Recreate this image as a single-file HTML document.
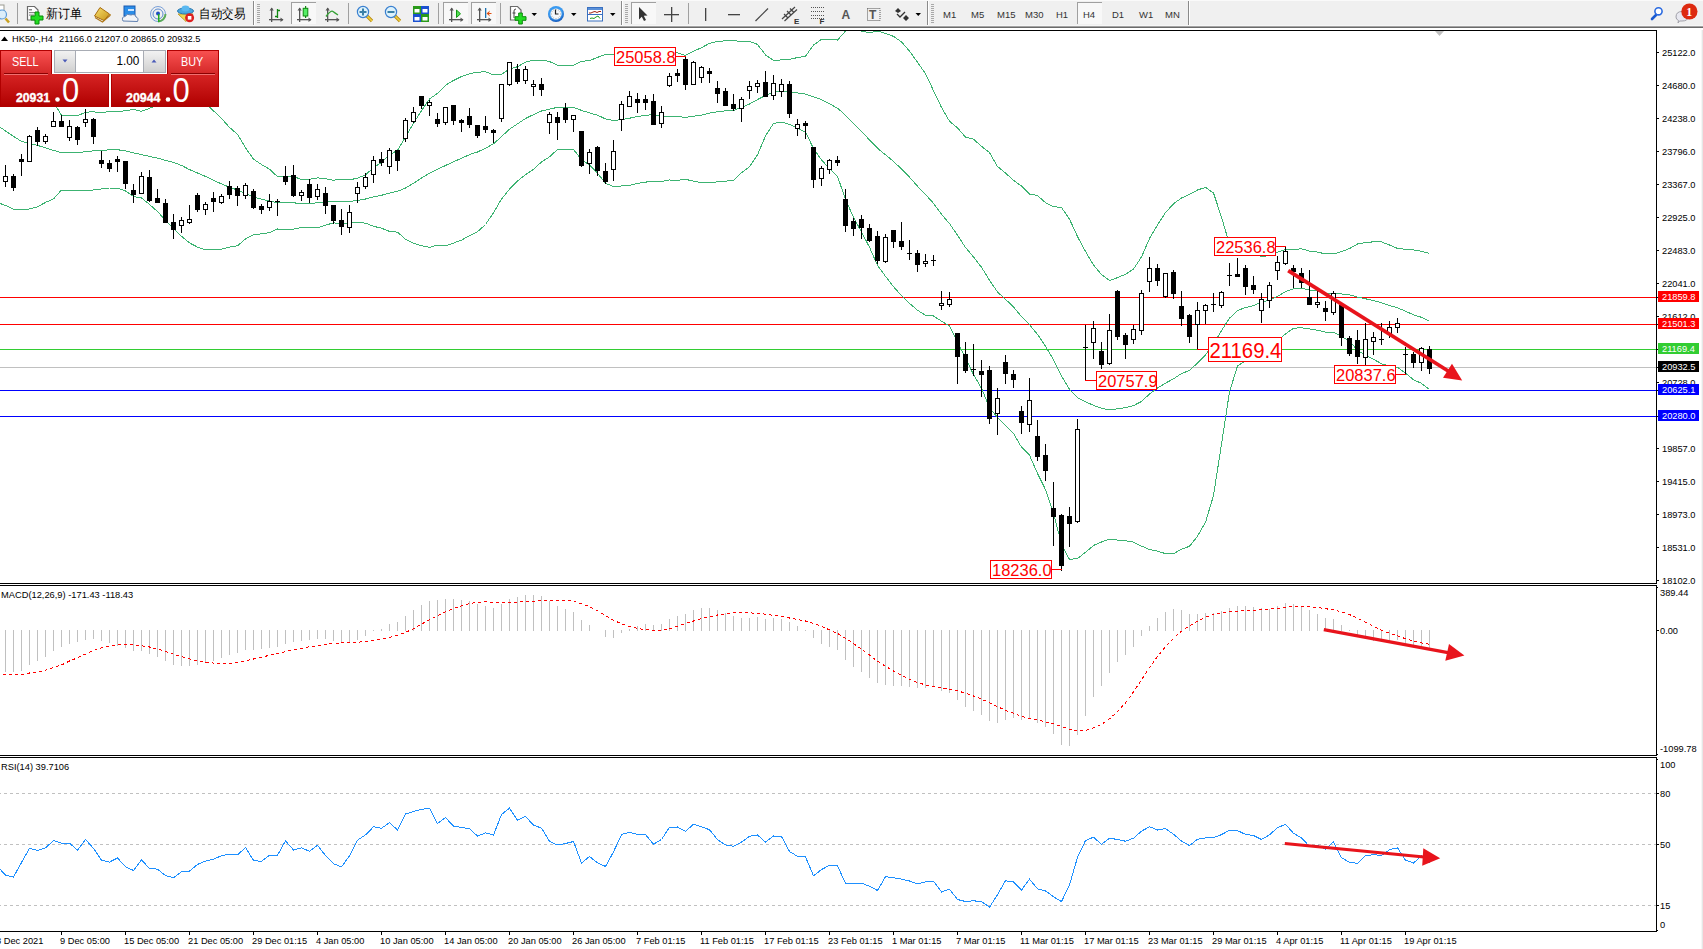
<!DOCTYPE html>
<html><head><meta charset="utf-8"><style>
html,body{margin:0;padding:0;background:#fff;}
body{width:1703px;height:949px;position:relative;overflow:hidden;font-family:"Liberation Sans",sans-serif;}
.abs{position:absolute;}
</style></head><body>
<svg class="abs" style="left:0;top:0" width="1703" height="949" viewBox="0 0 1703 949">
<rect x="1702" y="28" width="1" height="921" fill="#e6e6e6"/>
<rect x="1701" y="28" width="1" height="921" fill="#f6f6f6"/>
<polygon points="1435,31 1444,31 1439.5,36" fill="#c0c0c0"/>
<rect x="0" y="297" width="1656" height="1" fill="#ff0000"/>
<rect x="0" y="324" width="1656" height="1" fill="#ff0000"/>
<rect x="0" y="349" width="1656" height="1" fill="#32cd32"/>
<rect x="0" y="367" width="1656" height="1" fill="#c0c0c0"/>
<rect x="0" y="390" width="1656" height="1" fill="#0000ff"/>
<rect x="0" y="416" width="1656" height="1" fill="#0000ff"/>
<line x1="0" y1="793.5" x2="1656" y2="793.5" stroke="#c0c0c0" stroke-width="1" stroke-dasharray="3 3" stroke-dashoffset="2"/>
<line x1="0" y1="844.5" x2="1656" y2="844.5" stroke="#c0c0c0" stroke-width="1" stroke-dasharray="3 3" stroke-dashoffset="2"/>
<line x1="0" y1="905.5" x2="1656" y2="905.5" stroke="#c0c0c0" stroke-width="1" stroke-dasharray="3 3" stroke-dashoffset="2"/>
<g shape-rendering="crispEdges">
<polyline points="-3.0,47.5 5.5,56.4 13.5,63.4 21.5,72.9 29.5,77.9 37.5,83.9 45.5,93.4 53.5,101.9 61.5,115.2 69.5,115.8 77.5,115.8 85.5,112.2 93.5,111.8 101.5,112.8 109.5,111.4 117.5,111.4 125.5,110.8 133.5,109.3 141.5,111.3 149.5,108.4 157.5,104.6 165.5,100.4 173.5,96.2 181.5,94.5 189.5,96.2 197.5,98.8 205.5,103.0 213.5,110.8 221.5,118.5 229.5,127.4 237.5,134.3 245.5,147.8 253.5,159.2 261.5,164.5 269.5,169.1 277.5,176.7 285.5,176.3 293.5,176.4 301.5,179.6 309.5,179.3 317.5,177.9 325.5,178.7 333.5,180.2 341.5,179.3 349.5,179.8 357.5,178.2 365.5,174.9 373.5,167.6 381.5,162.3 389.5,154.7 397.5,150.5 405.5,136.9 413.5,123.3 421.5,110.6 429.5,99.0 437.5,93.3 445.5,85.3 453.5,80.5 461.5,76.5 469.5,73.7 477.5,72.2 485.5,71.8 493.5,74.8 501.5,74.3 509.5,69.1 517.5,66.7 525.5,62.2 533.5,60.0 541.5,60.0 549.5,61.5 557.5,65.2 565.5,65.2 573.5,65.3 581.5,61.3 589.5,60.7 597.5,57.4 605.5,54.5 613.5,54.5 621.5,53.2 629.5,51.1 637.5,49.6 645.5,48.3 653.5,48.2 661.5,51.0 669.5,53.8 677.5,52.8 685.5,55.4 693.5,51.3 701.5,47.7 709.5,43.3 717.5,41.5 725.5,40.8 733.5,40.5 741.5,41.8 749.5,41.3 757.5,44.4 765.5,54.9 773.5,60.5 781.5,59.9 789.5,59.3 797.5,57.6 805.5,56.2 813.5,45.1 821.5,39.4 829.5,39.1 837.5,40.1 845.5,31.1 853.5,29.7 861.5,31.1 869.5,32.6 877.5,31.2 885.5,33.3 893.5,36.4 901.5,41.9 909.5,51.0 917.5,62.3 925.5,73.6 933.5,90.7 941.5,107.5 949.5,121.2 957.5,127.9 965.5,137.2 973.5,139.2 981.5,146.3 989.5,152.6 997.5,166.5 1005.5,173.0 1013.5,180.3 1021.5,186.1 1029.5,194.1 1037.5,195.5 1045.5,202.6 1053.5,206.7 1061.5,207.5 1069.5,219.1 1077.5,236.6 1085.5,251.4 1093.5,265.0 1101.5,274.6 1109.5,280.6 1117.5,277.6 1125.5,274.3 1133.5,269.0 1141.5,256.9 1149.5,238.5 1157.5,225.0 1165.5,212.6 1173.5,203.8 1181.5,198.0 1189.5,194.5 1197.5,190.0 1205.5,187.4 1213.5,193.0 1221.5,217.1 1229.5,244.5 1237.5,255.2 1245.5,253.9 1253.5,252.3 1261.5,256.5 1269.5,255.6 1277.5,252.3 1285.5,249.4 1293.5,249.4 1301.5,248.8 1309.5,251.1 1317.5,252.1 1325.5,253.9 1333.5,253.9 1341.5,251.6 1349.5,248.6 1357.5,244.0 1365.5,242.6 1373.5,241.8 1381.5,241.9 1389.5,245.0 1397.5,248.4 1405.5,249.3 1413.5,250.0 1421.5,251.2 1429.5,253.5" fill="none" stroke="#3cb371" stroke-width="1" />
<polyline points="-3.0,125.0 5.5,130.9 13.5,136.4 21.5,141.4 29.5,143.4 37.5,145.4 45.5,147.9 53.5,150.4 61.5,152.6 69.5,152.9 77.5,152.9 85.5,151.6 93.5,150.9 101.5,150.9 109.5,149.7 117.5,149.7 125.5,150.9 133.5,152.9 141.5,154.6 149.5,156.4 157.5,158.1 165.5,160.4 173.5,162.5 181.5,165.4 189.5,169.6 197.5,173.0 205.5,176.4 213.5,180.3 221.5,183.9 229.5,187.3 237.5,190.0 245.5,193.4 253.5,196.9 261.5,199.2 269.5,200.9 277.5,202.9 285.5,202.8 293.5,202.8 301.5,203.6 309.5,203.5 317.5,202.8 325.5,202.0 333.5,201.5 341.5,201.8 349.5,201.4 357.5,200.4 365.5,199.0 373.5,196.9 381.5,195.3 389.5,193.1 397.5,191.3 405.5,188.1 413.5,183.3 421.5,178.1 429.5,173.2 437.5,169.2 445.5,165.5 453.5,161.8 461.5,158.3 469.5,154.6 477.5,152.0 485.5,148.2 493.5,143.8 501.5,136.6 509.5,129.2 517.5,123.8 525.5,118.5 533.5,114.6 541.5,111.0 549.5,109.2 557.5,107.3 565.5,107.2 573.5,107.4 581.5,110.4 589.5,112.9 597.5,115.2 605.5,118.9 613.5,120.5 621.5,119.6 629.5,118.2 637.5,116.6 645.5,115.2 653.5,114.8 661.5,116.2 669.5,116.9 677.5,116.6 685.5,117.4 693.5,116.3 701.5,115.1 709.5,113.1 717.5,111.7 725.5,110.9 733.5,110.6 741.5,107.3 749.5,104.0 757.5,99.6 765.5,95.4 773.5,92.0 781.5,91.0 789.5,91.8 797.5,92.9 805.5,94.1 813.5,96.8 821.5,99.6 829.5,103.8 837.5,108.2 845.5,115.2 853.5,123.6 861.5,131.5 869.5,139.9 877.5,148.2 885.5,154.8 893.5,161.5 901.5,168.9 909.5,177.2 917.5,186.2 925.5,194.5 933.5,203.3 941.5,214.3 949.5,223.6 957.5,235.2 965.5,247.5 973.5,257.0 981.5,267.3 989.5,280.2 997.5,292.0 1005.5,299.3 1013.5,306.9 1021.5,316.6 1029.5,324.7 1037.5,334.4 1045.5,346.1 1053.5,359.8 1061.5,375.8 1069.5,389.3 1077.5,397.6 1085.5,401.9 1093.5,405.3 1101.5,408.3 1109.5,409.8 1117.5,408.8 1125.5,407.6 1133.5,405.6 1141.5,401.5 1149.5,394.0 1157.5,388.1 1165.5,383.1 1173.5,378.8 1181.5,373.6 1189.5,370.4 1197.5,363.1 1205.5,354.8 1213.5,344.2 1221.5,330.6 1229.5,318.2 1237.5,310.6 1245.5,307.5 1253.5,305.6 1261.5,302.3 1269.5,300.1 1277.5,296.4 1285.5,291.7 1293.5,288.8 1301.5,288.2 1309.5,290.1 1317.5,291.1 1325.5,293.0 1333.5,293.0 1341.5,294.0 1349.5,294.8 1357.5,297.1 1365.5,298.8 1373.5,300.5 1381.5,302.8 1389.5,305.5 1397.5,307.8 1405.5,311.2 1413.5,314.8 1421.5,317.3 1429.5,321.4" fill="none" stroke="#3cb371" stroke-width="1" />
<polyline points="-3.0,202.5 5.5,205.4 13.5,209.4 21.5,209.9 29.5,208.9 37.5,206.9 45.5,202.4 53.5,198.9 61.5,190.0 69.5,190.0 77.5,190.0 85.5,191.0 93.5,190.0 101.5,189.0 109.5,188.0 117.5,188.0 125.5,191.0 133.5,196.5 141.5,197.9 149.5,204.4 157.5,211.5 165.5,220.3 173.5,228.7 181.5,236.3 189.5,242.9 197.5,247.1 205.5,249.7 213.5,249.9 221.5,249.2 229.5,247.1 237.5,245.8 245.5,238.9 253.5,234.6 261.5,233.9 269.5,232.6 277.5,229.0 285.5,229.2 293.5,229.2 301.5,227.6 309.5,227.6 317.5,227.7 325.5,225.2 333.5,222.8 341.5,224.3 349.5,223.1 357.5,222.5 365.5,223.1 373.5,226.3 381.5,228.2 389.5,231.4 397.5,232.1 405.5,239.2 413.5,243.3 421.5,245.6 429.5,247.3 437.5,245.2 445.5,245.8 453.5,243.1 461.5,240.1 469.5,235.6 477.5,231.7 485.5,224.5 493.5,212.7 501.5,199.0 509.5,189.2 517.5,181.0 525.5,174.7 533.5,169.3 541.5,162.0 549.5,156.9 557.5,149.4 565.5,149.3 573.5,149.5 581.5,159.5 589.5,165.1 597.5,173.1 605.5,183.4 613.5,186.5 621.5,186.0 629.5,185.3 637.5,183.5 645.5,182.1 653.5,181.4 661.5,181.4 669.5,180.0 677.5,180.4 685.5,179.3 693.5,181.2 701.5,182.6 709.5,182.9 717.5,181.8 725.5,181.1 733.5,180.7 741.5,172.8 749.5,166.7 757.5,154.9 765.5,135.9 773.5,123.5 781.5,122.1 789.5,124.4 797.5,128.3 805.5,132.0 813.5,148.6 821.5,159.9 829.5,168.6 837.5,176.3 845.5,199.4 853.5,217.4 861.5,232.0 869.5,247.2 877.5,265.3 885.5,276.4 893.5,286.6 901.5,295.8 909.5,303.4 917.5,310.2 925.5,315.4 933.5,316.0 941.5,321.1 949.5,326.0 957.5,342.5 965.5,357.7 973.5,374.7 981.5,388.2 989.5,407.7 997.5,417.4 1005.5,425.7 1013.5,433.5 1021.5,447.2 1029.5,455.2 1037.5,473.4 1045.5,489.6 1053.5,513.0 1061.5,544.1 1069.5,559.5 1077.5,558.5 1085.5,552.3 1093.5,545.5 1101.5,542.0 1109.5,539.1 1117.5,540.1 1125.5,540.8 1133.5,542.1 1141.5,546.1 1149.5,549.5 1157.5,551.2 1165.5,553.6 1173.5,553.8 1181.5,549.2 1189.5,546.3 1197.5,536.2 1205.5,522.3 1213.5,495.5 1221.5,444.1 1229.5,391.9 1237.5,365.9 1245.5,361.1 1253.5,358.8 1261.5,348.1 1269.5,344.5 1277.5,340.4 1285.5,334.0 1293.5,328.2 1301.5,327.7 1309.5,329.0 1317.5,330.2 1325.5,332.2 1333.5,332.2 1341.5,336.4 1349.5,341.1 1357.5,350.3 1365.5,355.1 1373.5,359.2 1381.5,363.8 1389.5,365.9 1397.5,367.2 1405.5,373.1 1413.5,379.7 1421.5,383.4 1429.5,389.4" fill="none" stroke="#3cb371" stroke-width="1" />
</g>
<g shape-rendering="crispEdges">
<rect x="5" y="165" width="1" height="22" fill="#000"/>
<rect x="3" y="176" width="5" height="6" fill="#000"/>
<rect x="4" y="177" width="3" height="4" fill="#fff"/>
<rect x="13" y="174" width="1" height="17" fill="#000"/>
<rect x="11" y="176" width="5" height="12" fill="#000"/>
<rect x="21" y="154" width="1" height="22" fill="#000"/>
<rect x="19" y="159" width="5" height="3" fill="#000"/>
<rect x="29" y="135" width="1" height="27" fill="#000"/>
<rect x="27" y="136" width="5" height="26" fill="#000"/>
<rect x="28" y="137" width="3" height="24" fill="#fff"/>
<rect x="37" y="127" width="1" height="19" fill="#000"/>
<rect x="35" y="130" width="5" height="12" fill="#000"/>
<rect x="45" y="134" width="1" height="10" fill="#000"/>
<rect x="43" y="136" width="5" height="6" fill="#000"/>
<rect x="44" y="137" width="3" height="4" fill="#fff"/>
<rect x="53" y="112" width="1" height="15" fill="#000"/>
<rect x="51" y="121" width="5" height="6" fill="#000"/>
<rect x="52" y="122" width="3" height="4" fill="#fff"/>
<rect x="61" y="115" width="1" height="12" fill="#000"/>
<rect x="59" y="121" width="5" height="6" fill="#000"/>
<rect x="69" y="120" width="1" height="21" fill="#000"/>
<rect x="67" y="126" width="5" height="12" fill="#000"/>
<rect x="68" y="127" width="3" height="10" fill="#fff"/>
<rect x="77" y="126" width="1" height="19" fill="#000"/>
<rect x="75" y="127" width="5" height="13" fill="#000"/>
<rect x="85" y="109" width="1" height="18" fill="#000"/>
<rect x="83" y="119" width="5" height="4" fill="#000"/>
<rect x="84" y="120" width="3" height="2" fill="#fff"/>
<rect x="93" y="118" width="1" height="26" fill="#000"/>
<rect x="91" y="119" width="5" height="18" fill="#000"/>
<rect x="101" y="151" width="1" height="17" fill="#000"/>
<rect x="99" y="160" width="5" height="4" fill="#000"/>
<rect x="109" y="160" width="1" height="12" fill="#000"/>
<rect x="107" y="163" width="5" height="6" fill="#000"/>
<rect x="117" y="156" width="1" height="16" fill="#000"/>
<rect x="115" y="159" width="5" height="3" fill="#000"/>
<rect x="125" y="161" width="1" height="28" fill="#000"/>
<rect x="123" y="161" width="5" height="23" fill="#000"/>
<rect x="133" y="184" width="1" height="19" fill="#000"/>
<rect x="131" y="190" width="5" height="5" fill="#000"/>
<rect x="141" y="172" width="1" height="22" fill="#000"/>
<rect x="139" y="176" width="5" height="18" fill="#000"/>
<rect x="140" y="177" width="3" height="16" fill="#fff"/>
<rect x="149" y="170" width="1" height="32" fill="#000"/>
<rect x="147" y="177" width="5" height="24" fill="#000"/>
<rect x="157" y="189" width="1" height="14" fill="#000"/>
<rect x="155" y="198" width="5" height="5" fill="#000"/>
<rect x="165" y="199" width="1" height="24" fill="#000"/>
<rect x="163" y="203" width="5" height="20" fill="#000"/>
<rect x="173" y="214" width="1" height="25" fill="#000"/>
<rect x="171" y="222" width="5" height="8" fill="#000"/>
<rect x="181" y="217" width="1" height="16" fill="#000"/>
<rect x="179" y="220" width="5" height="6" fill="#000"/>
<rect x="180" y="221" width="3" height="4" fill="#fff"/>
<rect x="189" y="205" width="1" height="19" fill="#000"/>
<rect x="187" y="219" width="5" height="4" fill="#000"/>
<rect x="188" y="220" width="3" height="2" fill="#fff"/>
<rect x="197" y="193" width="1" height="19" fill="#000"/>
<rect x="195" y="195" width="5" height="15" fill="#000"/>
<rect x="205" y="202" width="1" height="13" fill="#000"/>
<rect x="203" y="204" width="5" height="6" fill="#000"/>
<rect x="204" y="205" width="3" height="4" fill="#fff"/>
<rect x="213" y="192" width="1" height="20" fill="#000"/>
<rect x="211" y="198" width="5" height="4" fill="#000"/>
<rect x="221" y="194" width="1" height="10" fill="#000"/>
<rect x="219" y="196" width="5" height="7" fill="#000"/>
<rect x="220" y="197" width="3" height="5" fill="#fff"/>
<rect x="229" y="181" width="1" height="18" fill="#000"/>
<rect x="227" y="186" width="5" height="9" fill="#000"/>
<rect x="237" y="186" width="1" height="20" fill="#000"/>
<rect x="235" y="188" width="5" height="8" fill="#000"/>
<rect x="245" y="183" width="1" height="16" fill="#000"/>
<rect x="243" y="185" width="5" height="11" fill="#000"/>
<rect x="244" y="186" width="3" height="9" fill="#fff"/>
<rect x="253" y="189" width="1" height="20" fill="#000"/>
<rect x="251" y="191" width="5" height="17" fill="#000"/>
<rect x="261" y="204" width="1" height="10" fill="#000"/>
<rect x="259" y="206" width="5" height="4" fill="#000"/>
<rect x="269" y="194" width="1" height="17" fill="#000"/>
<rect x="267" y="201" width="5" height="7" fill="#000"/>
<rect x="268" y="202" width="3" height="5" fill="#fff"/>
<rect x="277" y="199" width="1" height="17" fill="#000"/>
<rect x="275" y="201" width="5" height="1" fill="#000"/>
<rect x="285" y="166" width="1" height="19" fill="#000"/>
<rect x="283" y="176" width="5" height="6" fill="#000"/>
<rect x="293" y="165" width="1" height="32" fill="#000"/>
<rect x="291" y="175" width="5" height="21" fill="#000"/>
<rect x="301" y="190" width="1" height="11" fill="#000"/>
<rect x="299" y="192" width="5" height="4" fill="#000"/>
<rect x="300" y="193" width="3" height="2" fill="#fff"/>
<rect x="309" y="179" width="1" height="24" fill="#000"/>
<rect x="307" y="184" width="5" height="14" fill="#000"/>
<rect x="317" y="184" width="1" height="16" fill="#000"/>
<rect x="315" y="189" width="5" height="8" fill="#000"/>
<rect x="316" y="190" width="3" height="6" fill="#fff"/>
<rect x="325" y="187" width="1" height="27" fill="#000"/>
<rect x="323" y="193" width="5" height="13" fill="#000"/>
<rect x="333" y="205" width="1" height="19" fill="#000"/>
<rect x="331" y="205" width="5" height="16" fill="#000"/>
<rect x="341" y="209" width="1" height="26" fill="#000"/>
<rect x="339" y="220" width="5" height="7" fill="#000"/>
<rect x="349" y="205" width="1" height="28" fill="#000"/>
<rect x="347" y="212" width="5" height="16" fill="#000"/>
<rect x="348" y="213" width="3" height="14" fill="#fff"/>
<rect x="357" y="182" width="1" height="21" fill="#000"/>
<rect x="355" y="187" width="5" height="7" fill="#000"/>
<rect x="356" y="188" width="3" height="5" fill="#fff"/>
<rect x="365" y="173" width="1" height="16" fill="#000"/>
<rect x="363" y="177" width="5" height="10" fill="#000"/>
<rect x="364" y="178" width="3" height="8" fill="#fff"/>
<rect x="373" y="156" width="1" height="27" fill="#000"/>
<rect x="371" y="160" width="5" height="15" fill="#000"/>
<rect x="372" y="161" width="3" height="13" fill="#fff"/>
<rect x="381" y="152" width="1" height="14" fill="#000"/>
<rect x="379" y="159" width="5" height="4" fill="#000"/>
<rect x="389" y="148" width="1" height="26" fill="#000"/>
<rect x="387" y="150" width="5" height="17" fill="#000"/>
<rect x="388" y="151" width="3" height="15" fill="#fff"/>
<rect x="397" y="150" width="1" height="21" fill="#000"/>
<rect x="395" y="150" width="5" height="11" fill="#000"/>
<rect x="405" y="118" width="1" height="24" fill="#000"/>
<rect x="403" y="120" width="5" height="19" fill="#000"/>
<rect x="404" y="121" width="3" height="17" fill="#fff"/>
<rect x="413" y="107" width="1" height="16" fill="#000"/>
<rect x="411" y="112" width="5" height="10" fill="#000"/>
<rect x="412" y="113" width="3" height="8" fill="#fff"/>
<rect x="421" y="96" width="1" height="13" fill="#000"/>
<rect x="419" y="96" width="5" height="10" fill="#000"/>
<rect x="429" y="100" width="1" height="16" fill="#000"/>
<rect x="427" y="102" width="5" height="4" fill="#000"/>
<rect x="428" y="103" width="3" height="2" fill="#fff"/>
<rect x="437" y="113" width="1" height="14" fill="#000"/>
<rect x="435" y="119" width="5" height="5" fill="#000"/>
<rect x="445" y="107" width="1" height="18" fill="#000"/>
<rect x="443" y="107" width="5" height="16" fill="#000"/>
<rect x="444" y="108" width="3" height="14" fill="#fff"/>
<rect x="453" y="105" width="1" height="20" fill="#000"/>
<rect x="451" y="105" width="5" height="16" fill="#000"/>
<rect x="461" y="119" width="1" height="13" fill="#000"/>
<rect x="459" y="120" width="5" height="3" fill="#000"/>
<rect x="469" y="108" width="1" height="20" fill="#000"/>
<rect x="467" y="116" width="5" height="9" fill="#000"/>
<rect x="477" y="125" width="1" height="13" fill="#000"/>
<rect x="475" y="125" width="5" height="11" fill="#000"/>
<rect x="485" y="116" width="1" height="17" fill="#000"/>
<rect x="483" y="126" width="5" height="4" fill="#000"/>
<rect x="493" y="129" width="1" height="14" fill="#000"/>
<rect x="491" y="130" width="5" height="3" fill="#000"/>
<rect x="501" y="84" width="1" height="38" fill="#000"/>
<rect x="499" y="84" width="5" height="35" fill="#000"/>
<rect x="500" y="85" width="3" height="33" fill="#fff"/>
<rect x="509" y="62" width="1" height="24" fill="#000"/>
<rect x="507" y="62" width="5" height="23" fill="#000"/>
<rect x="508" y="63" width="3" height="21" fill="#fff"/>
<rect x="517" y="64" width="1" height="20" fill="#000"/>
<rect x="515" y="69" width="5" height="13" fill="#000"/>
<rect x="525" y="66" width="1" height="18" fill="#000"/>
<rect x="523" y="69" width="5" height="12" fill="#000"/>
<rect x="524" y="70" width="3" height="10" fill="#fff"/>
<rect x="533" y="80" width="1" height="16" fill="#000"/>
<rect x="531" y="84" width="5" height="3" fill="#000"/>
<rect x="532" y="85" width="3" height="1" fill="#fff"/>
<rect x="541" y="78" width="1" height="18" fill="#000"/>
<rect x="539" y="84" width="5" height="6" fill="#000"/>
<rect x="549" y="112" width="1" height="22" fill="#000"/>
<rect x="547" y="114" width="5" height="9" fill="#000"/>
<rect x="548" y="115" width="3" height="7" fill="#fff"/>
<rect x="557" y="112" width="1" height="28" fill="#000"/>
<rect x="555" y="117" width="5" height="6" fill="#000"/>
<rect x="565" y="103" width="1" height="20" fill="#000"/>
<rect x="563" y="108" width="5" height="12" fill="#000"/>
<rect x="573" y="115" width="1" height="17" fill="#000"/>
<rect x="571" y="115" width="5" height="5" fill="#000"/>
<rect x="572" y="116" width="3" height="3" fill="#fff"/>
<rect x="581" y="131" width="1" height="36" fill="#000"/>
<rect x="579" y="131" width="5" height="35" fill="#000"/>
<rect x="589" y="149" width="1" height="25" fill="#000"/>
<rect x="587" y="152" width="5" height="12" fill="#000"/>
<rect x="588" y="153" width="3" height="10" fill="#fff"/>
<rect x="597" y="146" width="1" height="30" fill="#000"/>
<rect x="595" y="147" width="5" height="24" fill="#000"/>
<rect x="605" y="163" width="1" height="21" fill="#000"/>
<rect x="603" y="171" width="5" height="11" fill="#000"/>
<rect x="613" y="140" width="1" height="41" fill="#000"/>
<rect x="611" y="151" width="5" height="19" fill="#000"/>
<rect x="612" y="152" width="3" height="17" fill="#fff"/>
<rect x="621" y="101" width="1" height="30" fill="#000"/>
<rect x="619" y="104" width="5" height="16" fill="#000"/>
<rect x="620" y="105" width="3" height="14" fill="#fff"/>
<rect x="629" y="91" width="1" height="16" fill="#000"/>
<rect x="627" y="96" width="5" height="11" fill="#000"/>
<rect x="628" y="97" width="3" height="9" fill="#fff"/>
<rect x="637" y="93" width="1" height="20" fill="#000"/>
<rect x="635" y="99" width="5" height="4" fill="#000"/>
<rect x="645" y="95" width="1" height="15" fill="#000"/>
<rect x="643" y="99" width="5" height="4" fill="#000"/>
<rect x="653" y="94" width="1" height="31" fill="#000"/>
<rect x="651" y="101" width="5" height="24" fill="#000"/>
<rect x="661" y="106" width="1" height="22" fill="#000"/>
<rect x="659" y="112" width="5" height="12" fill="#000"/>
<rect x="660" y="113" width="3" height="10" fill="#fff"/>
<rect x="669" y="73" width="1" height="14" fill="#000"/>
<rect x="667" y="76" width="5" height="10" fill="#000"/>
<rect x="668" y="77" width="3" height="8" fill="#fff"/>
<rect x="677" y="69" width="1" height="13" fill="#000"/>
<rect x="675" y="73" width="5" height="3" fill="#000"/>
<rect x="685" y="57" width="1" height="33" fill="#000"/>
<rect x="683" y="59" width="5" height="26" fill="#000"/>
<rect x="693" y="61" width="1" height="24" fill="#000"/>
<rect x="691" y="62" width="5" height="23" fill="#000"/>
<rect x="692" y="63" width="3" height="21" fill="#fff"/>
<rect x="701" y="66" width="1" height="17" fill="#000"/>
<rect x="699" y="67" width="5" height="11" fill="#000"/>
<rect x="700" y="68" width="3" height="9" fill="#fff"/>
<rect x="709" y="68" width="1" height="15" fill="#000"/>
<rect x="707" y="71" width="5" height="3" fill="#000"/>
<rect x="717" y="81" width="1" height="22" fill="#000"/>
<rect x="715" y="88" width="5" height="6" fill="#000"/>
<rect x="725" y="88" width="1" height="18" fill="#000"/>
<rect x="723" y="91" width="5" height="15" fill="#000"/>
<rect x="733" y="94" width="1" height="17" fill="#000"/>
<rect x="731" y="104" width="5" height="5" fill="#000"/>
<rect x="741" y="97" width="1" height="25" fill="#000"/>
<rect x="739" y="99" width="5" height="10" fill="#000"/>
<rect x="740" y="100" width="3" height="8" fill="#fff"/>
<rect x="749" y="81" width="1" height="18" fill="#000"/>
<rect x="747" y="86" width="5" height="5" fill="#000"/>
<rect x="748" y="87" width="3" height="3" fill="#fff"/>
<rect x="757" y="80" width="1" height="13" fill="#000"/>
<rect x="755" y="83" width="5" height="4" fill="#000"/>
<rect x="756" y="84" width="3" height="2" fill="#fff"/>
<rect x="765" y="71" width="1" height="26" fill="#000"/>
<rect x="763" y="82" width="5" height="15" fill="#000"/>
<rect x="773" y="75" width="1" height="25" fill="#000"/>
<rect x="771" y="83" width="5" height="13" fill="#000"/>
<rect x="772" y="84" width="3" height="11" fill="#fff"/>
<rect x="781" y="79" width="1" height="18" fill="#000"/>
<rect x="779" y="84" width="5" height="8" fill="#000"/>
<rect x="780" y="85" width="3" height="6" fill="#fff"/>
<rect x="789" y="81" width="1" height="37" fill="#000"/>
<rect x="787" y="84" width="5" height="30" fill="#000"/>
<rect x="797" y="119" width="1" height="17" fill="#000"/>
<rect x="795" y="124" width="5" height="5" fill="#000"/>
<rect x="796" y="125" width="3" height="3" fill="#fff"/>
<rect x="805" y="121" width="1" height="18" fill="#000"/>
<rect x="803" y="123" width="5" height="3" fill="#000"/>
<rect x="813" y="147" width="1" height="41" fill="#000"/>
<rect x="811" y="147" width="5" height="33" fill="#000"/>
<rect x="821" y="166" width="1" height="20" fill="#000"/>
<rect x="819" y="168" width="5" height="11" fill="#000"/>
<rect x="820" y="169" width="3" height="9" fill="#fff"/>
<rect x="829" y="159" width="1" height="15" fill="#000"/>
<rect x="827" y="160" width="5" height="10" fill="#000"/>
<rect x="828" y="161" width="3" height="8" fill="#fff"/>
<rect x="837" y="156" width="1" height="10" fill="#000"/>
<rect x="835" y="160" width="5" height="3" fill="#000"/>
<rect x="845" y="189" width="1" height="43" fill="#000"/>
<rect x="843" y="199" width="5" height="27" fill="#000"/>
<rect x="853" y="218" width="1" height="18" fill="#000"/>
<rect x="851" y="221" width="5" height="8" fill="#000"/>
<rect x="861" y="215" width="1" height="24" fill="#000"/>
<rect x="859" y="219" width="5" height="9" fill="#000"/>
<rect x="869" y="224" width="1" height="18" fill="#000"/>
<rect x="867" y="228" width="5" height="13" fill="#000"/>
<rect x="877" y="231" width="1" height="33" fill="#000"/>
<rect x="875" y="236" width="5" height="25" fill="#000"/>
<rect x="885" y="234" width="1" height="29" fill="#000"/>
<rect x="883" y="237" width="5" height="25" fill="#000"/>
<rect x="884" y="238" width="3" height="23" fill="#fff"/>
<rect x="893" y="230" width="1" height="18" fill="#000"/>
<rect x="891" y="230" width="5" height="12" fill="#000"/>
<rect x="901" y="222" width="1" height="28" fill="#000"/>
<rect x="899" y="241" width="5" height="6" fill="#000"/>
<rect x="909" y="240" width="1" height="20" fill="#000"/>
<rect x="907" y="253" width="5" height="1" fill="#000"/>
<rect x="917" y="250" width="1" height="22" fill="#000"/>
<rect x="915" y="253" width="5" height="12" fill="#000"/>
<rect x="925" y="254" width="1" height="13" fill="#000"/>
<rect x="923" y="261" width="5" height="3" fill="#000"/>
<rect x="924" y="262" width="3" height="1" fill="#fff"/>
<rect x="933" y="255" width="1" height="11" fill="#000"/>
<rect x="931" y="260" width="5" height="1" fill="#000"/>
<rect x="941" y="291" width="1" height="19" fill="#000"/>
<rect x="939" y="303" width="5" height="3" fill="#000"/>
<rect x="940" y="304" width="3" height="1" fill="#fff"/>
<rect x="949" y="292" width="1" height="15" fill="#000"/>
<rect x="947" y="299" width="5" height="6" fill="#000"/>
<rect x="948" y="300" width="3" height="4" fill="#fff"/>
<rect x="957" y="333" width="1" height="51" fill="#000"/>
<rect x="955" y="333" width="5" height="24" fill="#000"/>
<rect x="965" y="342" width="1" height="31" fill="#000"/>
<rect x="963" y="354" width="5" height="17" fill="#000"/>
<rect x="973" y="344" width="1" height="32" fill="#000"/>
<rect x="971" y="369" width="5" height="1" fill="#000"/>
<rect x="981" y="360" width="1" height="37" fill="#000"/>
<rect x="979" y="371" width="5" height="4" fill="#000"/>
<rect x="989" y="366" width="1" height="58" fill="#000"/>
<rect x="987" y="370" width="5" height="49" fill="#000"/>
<rect x="997" y="388" width="1" height="47" fill="#000"/>
<rect x="995" y="398" width="5" height="16" fill="#000"/>
<rect x="996" y="399" width="3" height="14" fill="#fff"/>
<rect x="1005" y="355" width="1" height="29" fill="#000"/>
<rect x="1003" y="362" width="5" height="12" fill="#000"/>
<rect x="1013" y="370" width="1" height="18" fill="#000"/>
<rect x="1011" y="374" width="5" height="6" fill="#000"/>
<rect x="1021" y="406" width="1" height="28" fill="#000"/>
<rect x="1019" y="411" width="5" height="12" fill="#000"/>
<rect x="1029" y="378" width="1" height="54" fill="#000"/>
<rect x="1027" y="400" width="5" height="25" fill="#000"/>
<rect x="1028" y="401" width="3" height="23" fill="#fff"/>
<rect x="1037" y="420" width="1" height="41" fill="#000"/>
<rect x="1035" y="436" width="5" height="21" fill="#000"/>
<rect x="1045" y="444" width="1" height="37" fill="#000"/>
<rect x="1043" y="455" width="5" height="16" fill="#000"/>
<rect x="1053" y="482" width="1" height="64" fill="#000"/>
<rect x="1051" y="508" width="5" height="9" fill="#000"/>
<rect x="1061" y="514" width="1" height="57" fill="#000"/>
<rect x="1059" y="515" width="5" height="51" fill="#000"/>
<rect x="1069" y="507" width="1" height="40" fill="#000"/>
<rect x="1067" y="516" width="5" height="8" fill="#000"/>
<rect x="1077" y="419" width="1" height="104" fill="#000"/>
<rect x="1075" y="429" width="5" height="93" fill="#000"/>
<rect x="1076" y="430" width="3" height="91" fill="#fff"/>
<rect x="1085" y="325" width="1" height="56" fill="#000"/>
<rect x="1083" y="347" width="5" height="1" fill="#000"/>
<rect x="1093" y="321" width="1" height="38" fill="#000"/>
<rect x="1091" y="328" width="5" height="15" fill="#000"/>
<rect x="1092" y="329" width="3" height="13" fill="#fff"/>
<rect x="1101" y="342" width="1" height="27" fill="#000"/>
<rect x="1099" y="351" width="5" height="14" fill="#000"/>
<rect x="1109" y="314" width="1" height="51" fill="#000"/>
<rect x="1107" y="330" width="5" height="34" fill="#000"/>
<rect x="1108" y="331" width="3" height="32" fill="#fff"/>
<rect x="1117" y="290" width="1" height="50" fill="#000"/>
<rect x="1115" y="291" width="5" height="46" fill="#000"/>
<rect x="1125" y="333" width="1" height="26" fill="#000"/>
<rect x="1123" y="335" width="5" height="10" fill="#000"/>
<rect x="1133" y="325" width="1" height="19" fill="#000"/>
<rect x="1131" y="329" width="5" height="11" fill="#000"/>
<rect x="1132" y="330" width="3" height="9" fill="#fff"/>
<rect x="1141" y="290" width="1" height="45" fill="#000"/>
<rect x="1139" y="293" width="5" height="38" fill="#000"/>
<rect x="1140" y="294" width="3" height="36" fill="#fff"/>
<rect x="1149" y="257" width="1" height="35" fill="#000"/>
<rect x="1147" y="268" width="5" height="14" fill="#000"/>
<rect x="1148" y="269" width="3" height="12" fill="#fff"/>
<rect x="1157" y="264" width="1" height="22" fill="#000"/>
<rect x="1155" y="268" width="5" height="13" fill="#000"/>
<rect x="1165" y="273" width="1" height="25" fill="#000"/>
<rect x="1163" y="273" width="5" height="24" fill="#000"/>
<rect x="1164" y="274" width="3" height="22" fill="#fff"/>
<rect x="1173" y="270" width="1" height="29" fill="#000"/>
<rect x="1171" y="272" width="5" height="22" fill="#000"/>
<rect x="1181" y="291" width="1" height="35" fill="#000"/>
<rect x="1179" y="306" width="5" height="13" fill="#000"/>
<rect x="1189" y="314" width="1" height="29" fill="#000"/>
<rect x="1187" y="315" width="5" height="22" fill="#000"/>
<rect x="1197" y="302" width="1" height="47" fill="#000"/>
<rect x="1195" y="310" width="5" height="15" fill="#000"/>
<rect x="1196" y="311" width="3" height="13" fill="#fff"/>
<rect x="1205" y="304" width="1" height="20" fill="#000"/>
<rect x="1203" y="305" width="5" height="6" fill="#000"/>
<rect x="1204" y="306" width="3" height="4" fill="#fff"/>
<rect x="1213" y="293" width="1" height="19" fill="#000"/>
<rect x="1211" y="304" width="5" height="1" fill="#000"/>
<rect x="1221" y="291" width="1" height="17" fill="#000"/>
<rect x="1219" y="292" width="5" height="14" fill="#000"/>
<rect x="1220" y="293" width="3" height="12" fill="#fff"/>
<rect x="1229" y="263" width="1" height="23" fill="#000"/>
<rect x="1227" y="275" width="5" height="1" fill="#000"/>
<rect x="1237" y="258" width="1" height="19" fill="#000"/>
<rect x="1235" y="274" width="5" height="3" fill="#000"/>
<rect x="1245" y="265" width="1" height="30" fill="#000"/>
<rect x="1243" y="268" width="5" height="19" fill="#000"/>
<rect x="1253" y="276" width="1" height="18" fill="#000"/>
<rect x="1251" y="285" width="5" height="5" fill="#000"/>
<rect x="1261" y="293" width="1" height="30" fill="#000"/>
<rect x="1259" y="299" width="5" height="12" fill="#000"/>
<rect x="1260" y="300" width="3" height="10" fill="#fff"/>
<rect x="1269" y="282" width="1" height="26" fill="#000"/>
<rect x="1267" y="285" width="5" height="16" fill="#000"/>
<rect x="1268" y="286" width="3" height="14" fill="#fff"/>
<rect x="1277" y="256" width="1" height="24" fill="#000"/>
<rect x="1275" y="262" width="5" height="9" fill="#000"/>
<rect x="1276" y="263" width="3" height="7" fill="#fff"/>
<rect x="1285" y="247" width="1" height="18" fill="#000"/>
<rect x="1283" y="251" width="5" height="13" fill="#000"/>
<rect x="1284" y="252" width="3" height="11" fill="#fff"/>
<rect x="1293" y="265" width="1" height="23" fill="#000"/>
<rect x="1291" y="268" width="5" height="4" fill="#000"/>
<rect x="1301" y="268" width="1" height="20" fill="#000"/>
<rect x="1299" y="273" width="5" height="10" fill="#000"/>
<rect x="1309" y="270" width="1" height="35" fill="#000"/>
<rect x="1307" y="297" width="5" height="8" fill="#000"/>
<rect x="1317" y="290" width="1" height="18" fill="#000"/>
<rect x="1315" y="302" width="5" height="3" fill="#000"/>
<rect x="1316" y="303" width="3" height="1" fill="#fff"/>
<rect x="1325" y="301" width="1" height="20" fill="#000"/>
<rect x="1323" y="308" width="5" height="4" fill="#000"/>
<rect x="1333" y="291" width="1" height="24" fill="#000"/>
<rect x="1331" y="293" width="5" height="20" fill="#000"/>
<rect x="1332" y="294" width="3" height="18" fill="#fff"/>
<rect x="1341" y="305" width="1" height="41" fill="#000"/>
<rect x="1339" y="305" width="5" height="33" fill="#000"/>
<rect x="1349" y="336" width="1" height="20" fill="#000"/>
<rect x="1347" y="338" width="5" height="16" fill="#000"/>
<rect x="1357" y="330" width="1" height="34" fill="#000"/>
<rect x="1355" y="340" width="5" height="17" fill="#000"/>
<rect x="1365" y="323" width="1" height="44" fill="#000"/>
<rect x="1363" y="339" width="5" height="19" fill="#000"/>
<rect x="1364" y="340" width="3" height="17" fill="#fff"/>
<rect x="1373" y="332" width="1" height="23" fill="#000"/>
<rect x="1371" y="337" width="5" height="5" fill="#000"/>
<rect x="1372" y="338" width="3" height="3" fill="#fff"/>
<rect x="1381" y="323" width="1" height="22" fill="#000"/>
<rect x="1379" y="339" width="5" height="1" fill="#000"/>
<rect x="1389" y="321" width="1" height="17" fill="#000"/>
<rect x="1387" y="327" width="5" height="7" fill="#000"/>
<rect x="1388" y="328" width="3" height="5" fill="#fff"/>
<rect x="1397" y="318" width="1" height="15" fill="#000"/>
<rect x="1395" y="323" width="5" height="5" fill="#000"/>
<rect x="1396" y="324" width="3" height="3" fill="#fff"/>
<rect x="1405" y="347" width="1" height="28" fill="#000"/>
<rect x="1403" y="354" width="5" height="1" fill="#000"/>
<rect x="1413" y="352" width="1" height="16" fill="#000"/>
<rect x="1411" y="354" width="5" height="9" fill="#000"/>
<rect x="1421" y="347" width="1" height="24" fill="#000"/>
<rect x="1419" y="348" width="5" height="15" fill="#000"/>
<rect x="1420" y="349" width="3" height="13" fill="#fff"/>
<rect x="1429" y="346" width="1" height="28" fill="#000"/>
<rect x="1427" y="349" width="5" height="20" fill="#000"/>
</g>
<g shape-rendering="crispEdges">
<rect x="5" y="630" width="1" height="42" fill="#c0c0c0"/>
<rect x="13" y="630" width="1" height="42" fill="#c0c0c0"/>
<rect x="21" y="630" width="1" height="41" fill="#c0c0c0"/>
<rect x="29" y="630" width="1" height="35" fill="#c0c0c0"/>
<rect x="37" y="630" width="1" height="31" fill="#c0c0c0"/>
<rect x="45" y="630" width="1" height="27" fill="#c0c0c0"/>
<rect x="53" y="630" width="1" height="21" fill="#c0c0c0"/>
<rect x="61" y="630" width="1" height="17" fill="#c0c0c0"/>
<rect x="69" y="630" width="1" height="14" fill="#c0c0c0"/>
<rect x="77" y="630" width="1" height="12" fill="#c0c0c0"/>
<rect x="85" y="630" width="1" height="10" fill="#c0c0c0"/>
<rect x="93" y="630" width="1" height="9" fill="#c0c0c0"/>
<rect x="101" y="630" width="1" height="11" fill="#c0c0c0"/>
<rect x="109" y="630" width="1" height="13" fill="#c0c0c0"/>
<rect x="117" y="630" width="1" height="16" fill="#c0c0c0"/>
<rect x="125" y="630" width="1" height="18" fill="#c0c0c0"/>
<rect x="133" y="630" width="1" height="21" fill="#c0c0c0"/>
<rect x="141" y="630" width="1" height="21" fill="#c0c0c0"/>
<rect x="149" y="630" width="1" height="24" fill="#c0c0c0"/>
<rect x="157" y="630" width="1" height="27" fill="#c0c0c0"/>
<rect x="165" y="630" width="1" height="31" fill="#c0c0c0"/>
<rect x="173" y="630" width="1" height="35" fill="#c0c0c0"/>
<rect x="181" y="630" width="1" height="36" fill="#c0c0c0"/>
<rect x="189" y="630" width="1" height="36" fill="#c0c0c0"/>
<rect x="197" y="630" width="1" height="35" fill="#c0c0c0"/>
<rect x="205" y="630" width="1" height="33" fill="#c0c0c0"/>
<rect x="213" y="630" width="1" height="31" fill="#c0c0c0"/>
<rect x="221" y="630" width="1" height="28" fill="#c0c0c0"/>
<rect x="229" y="630" width="1" height="25" fill="#c0c0c0"/>
<rect x="237" y="630" width="1" height="23" fill="#c0c0c0"/>
<rect x="245" y="630" width="1" height="20" fill="#c0c0c0"/>
<rect x="253" y="630" width="1" height="20" fill="#c0c0c0"/>
<rect x="261" y="630" width="1" height="19" fill="#c0c0c0"/>
<rect x="269" y="630" width="1" height="18" fill="#c0c0c0"/>
<rect x="277" y="630" width="1" height="17" fill="#c0c0c0"/>
<rect x="285" y="630" width="1" height="14" fill="#c0c0c0"/>
<rect x="293" y="630" width="1" height="12" fill="#c0c0c0"/>
<rect x="301" y="630" width="1" height="11" fill="#c0c0c0"/>
<rect x="309" y="630" width="1" height="10" fill="#c0c0c0"/>
<rect x="317" y="630" width="1" height="9" fill="#c0c0c0"/>
<rect x="325" y="630" width="1" height="9" fill="#c0c0c0"/>
<rect x="333" y="630" width="1" height="11" fill="#c0c0c0"/>
<rect x="341" y="630" width="1" height="13" fill="#c0c0c0"/>
<rect x="349" y="630" width="1" height="13" fill="#c0c0c0"/>
<rect x="357" y="630" width="1" height="10" fill="#c0c0c0"/>
<rect x="365" y="630" width="1" height="6" fill="#c0c0c0"/>
<rect x="373" y="630" width="1" height="1" fill="#c0c0c0"/>
<rect x="381" y="629" width="1" height="2" fill="#c0c0c0"/>
<rect x="389" y="624" width="1" height="7" fill="#c0c0c0"/>
<rect x="397" y="622" width="1" height="9" fill="#c0c0c0"/>
<rect x="405" y="616" width="1" height="15" fill="#c0c0c0"/>
<rect x="413" y="610" width="1" height="21" fill="#c0c0c0"/>
<rect x="421" y="605" width="1" height="26" fill="#c0c0c0"/>
<rect x="429" y="601" width="1" height="30" fill="#c0c0c0"/>
<rect x="437" y="600" width="1" height="31" fill="#c0c0c0"/>
<rect x="445" y="599" width="1" height="32" fill="#c0c0c0"/>
<rect x="453" y="599" width="1" height="32" fill="#c0c0c0"/>
<rect x="461" y="600" width="1" height="31" fill="#c0c0c0"/>
<rect x="469" y="601" width="1" height="30" fill="#c0c0c0"/>
<rect x="477" y="604" width="1" height="27" fill="#c0c0c0"/>
<rect x="485" y="606" width="1" height="25" fill="#c0c0c0"/>
<rect x="493" y="608" width="1" height="23" fill="#c0c0c0"/>
<rect x="501" y="604" width="1" height="27" fill="#c0c0c0"/>
<rect x="509" y="599" width="1" height="32" fill="#c0c0c0"/>
<rect x="517" y="597" width="1" height="34" fill="#c0c0c0"/>
<rect x="525" y="595" width="1" height="36" fill="#c0c0c0"/>
<rect x="533" y="595" width="1" height="36" fill="#c0c0c0"/>
<rect x="541" y="596" width="1" height="35" fill="#c0c0c0"/>
<rect x="549" y="601" width="1" height="30" fill="#c0c0c0"/>
<rect x="557" y="606" width="1" height="25" fill="#c0c0c0"/>
<rect x="565" y="609" width="1" height="22" fill="#c0c0c0"/>
<rect x="573" y="612" width="1" height="19" fill="#c0c0c0"/>
<rect x="581" y="620" width="1" height="11" fill="#c0c0c0"/>
<rect x="589" y="625" width="1" height="6" fill="#c0c0c0"/>
<rect x="605" y="630" width="1" height="7" fill="#c0c0c0"/>
<rect x="613" y="630" width="1" height="8" fill="#c0c0c0"/>
<rect x="621" y="630" width="1" height="3" fill="#c0c0c0"/>
<rect x="629" y="629" width="1" height="2" fill="#c0c0c0"/>
<rect x="637" y="626" width="1" height="5" fill="#c0c0c0"/>
<rect x="645" y="624" width="1" height="7" fill="#c0c0c0"/>
<rect x="653" y="625" width="1" height="6" fill="#c0c0c0"/>
<rect x="661" y="624" width="1" height="7" fill="#c0c0c0"/>
<rect x="669" y="619" width="1" height="12" fill="#c0c0c0"/>
<rect x="677" y="616" width="1" height="15" fill="#c0c0c0"/>
<rect x="685" y="614" width="1" height="17" fill="#c0c0c0"/>
<rect x="693" y="610" width="1" height="21" fill="#c0c0c0"/>
<rect x="701" y="608" width="1" height="23" fill="#c0c0c0"/>
<rect x="709" y="608" width="1" height="23" fill="#c0c0c0"/>
<rect x="717" y="610" width="1" height="21" fill="#c0c0c0"/>
<rect x="725" y="613" width="1" height="18" fill="#c0c0c0"/>
<rect x="733" y="616" width="1" height="15" fill="#c0c0c0"/>
<rect x="741" y="618" width="1" height="13" fill="#c0c0c0"/>
<rect x="749" y="618" width="1" height="13" fill="#c0c0c0"/>
<rect x="757" y="617" width="1" height="14" fill="#c0c0c0"/>
<rect x="765" y="619" width="1" height="12" fill="#c0c0c0"/>
<rect x="773" y="618" width="1" height="13" fill="#c0c0c0"/>
<rect x="781" y="619" width="1" height="12" fill="#c0c0c0"/>
<rect x="789" y="622" width="1" height="9" fill="#c0c0c0"/>
<rect x="797" y="626" width="1" height="5" fill="#c0c0c0"/>
<rect x="805" y="630" width="1" height="1" fill="#c0c0c0"/>
<rect x="813" y="630" width="1" height="8" fill="#c0c0c0"/>
<rect x="821" y="630" width="1" height="14" fill="#c0c0c0"/>
<rect x="829" y="630" width="1" height="17" fill="#c0c0c0"/>
<rect x="837" y="630" width="1" height="20" fill="#c0c0c0"/>
<rect x="845" y="630" width="1" height="30" fill="#c0c0c0"/>
<rect x="853" y="630" width="1" height="37" fill="#c0c0c0"/>
<rect x="861" y="630" width="1" height="42" fill="#c0c0c0"/>
<rect x="869" y="630" width="1" height="48" fill="#c0c0c0"/>
<rect x="877" y="630" width="1" height="53" fill="#c0c0c0"/>
<rect x="885" y="630" width="1" height="55" fill="#c0c0c0"/>
<rect x="893" y="630" width="1" height="56" fill="#c0c0c0"/>
<rect x="901" y="630" width="1" height="56" fill="#c0c0c0"/>
<rect x="909" y="630" width="1" height="57" fill="#c0c0c0"/>
<rect x="917" y="630" width="1" height="58" fill="#c0c0c0"/>
<rect x="925" y="630" width="1" height="58" fill="#c0c0c0"/>
<rect x="933" y="630" width="1" height="57" fill="#c0c0c0"/>
<rect x="941" y="630" width="1" height="61" fill="#c0c0c0"/>
<rect x="949" y="630" width="1" height="63" fill="#c0c0c0"/>
<rect x="957" y="630" width="1" height="70" fill="#c0c0c0"/>
<rect x="965" y="630" width="1" height="77" fill="#c0c0c0"/>
<rect x="973" y="630" width="1" height="81" fill="#c0c0c0"/>
<rect x="981" y="630" width="1" height="85" fill="#c0c0c0"/>
<rect x="989" y="630" width="1" height="91" fill="#c0c0c0"/>
<rect x="997" y="630" width="1" height="93" fill="#c0c0c0"/>
<rect x="1005" y="630" width="1" height="90" fill="#c0c0c0"/>
<rect x="1013" y="630" width="1" height="88" fill="#c0c0c0"/>
<rect x="1021" y="630" width="1" height="90" fill="#c0c0c0"/>
<rect x="1029" y="630" width="1" height="88" fill="#c0c0c0"/>
<rect x="1037" y="630" width="1" height="93" fill="#c0c0c0"/>
<rect x="1045" y="630" width="1" height="97" fill="#c0c0c0"/>
<rect x="1053" y="630" width="1" height="104" fill="#c0c0c0"/>
<rect x="1061" y="630" width="1" height="115" fill="#c0c0c0"/>
<rect x="1069" y="630" width="1" height="116" fill="#c0c0c0"/>
<rect x="1077" y="630" width="1" height="105" fill="#c0c0c0"/>
<rect x="1085" y="630" width="1" height="86" fill="#c0c0c0"/>
<rect x="1093" y="630" width="1" height="67" fill="#c0c0c0"/>
<rect x="1101" y="630" width="1" height="56" fill="#c0c0c0"/>
<rect x="1109" y="630" width="1" height="43" fill="#c0c0c0"/>
<rect x="1117" y="630" width="1" height="32" fill="#c0c0c0"/>
<rect x="1125" y="630" width="1" height="25" fill="#c0c0c0"/>
<rect x="1133" y="630" width="1" height="17" fill="#c0c0c0"/>
<rect x="1141" y="630" width="1" height="6" fill="#c0c0c0"/>
<rect x="1149" y="626" width="1" height="5" fill="#c0c0c0"/>
<rect x="1157" y="618" width="1" height="13" fill="#c0c0c0"/>
<rect x="1165" y="612" width="1" height="19" fill="#c0c0c0"/>
<rect x="1173" y="609" width="1" height="22" fill="#c0c0c0"/>
<rect x="1181" y="610" width="1" height="21" fill="#c0c0c0"/>
<rect x="1189" y="614" width="1" height="17" fill="#c0c0c0"/>
<rect x="1197" y="614" width="1" height="17" fill="#c0c0c0"/>
<rect x="1205" y="613" width="1" height="18" fill="#c0c0c0"/>
<rect x="1213" y="613" width="1" height="18" fill="#c0c0c0"/>
<rect x="1221" y="611" width="1" height="20" fill="#c0c0c0"/>
<rect x="1229" y="608" width="1" height="23" fill="#c0c0c0"/>
<rect x="1237" y="606" width="1" height="25" fill="#c0c0c0"/>
<rect x="1245" y="606" width="1" height="25" fill="#c0c0c0"/>
<rect x="1253" y="607" width="1" height="24" fill="#c0c0c0"/>
<rect x="1261" y="608" width="1" height="23" fill="#c0c0c0"/>
<rect x="1269" y="609" width="1" height="22" fill="#c0c0c0"/>
<rect x="1277" y="606" width="1" height="25" fill="#c0c0c0"/>
<rect x="1285" y="603" width="1" height="28" fill="#c0c0c0"/>
<rect x="1293" y="604" width="1" height="27" fill="#c0c0c0"/>
<rect x="1301" y="606" width="1" height="25" fill="#c0c0c0"/>
<rect x="1309" y="610" width="1" height="21" fill="#c0c0c0"/>
<rect x="1317" y="614" width="1" height="17" fill="#c0c0c0"/>
<rect x="1325" y="618" width="1" height="13" fill="#c0c0c0"/>
<rect x="1333" y="619" width="1" height="12" fill="#c0c0c0"/>
<rect x="1341" y="625" width="1" height="6" fill="#c0c0c0"/>
<rect x="1349" y="630" width="1" height="1" fill="#c0c0c0"/>
<rect x="1357" y="630" width="1" height="7" fill="#c0c0c0"/>
<rect x="1365" y="630" width="1" height="9" fill="#c0c0c0"/>
<rect x="1373" y="630" width="1" height="11" fill="#c0c0c0"/>
<rect x="1381" y="630" width="1" height="12" fill="#c0c0c0"/>
<rect x="1389" y="630" width="1" height="11" fill="#c0c0c0"/>
<rect x="1397" y="630" width="1" height="10" fill="#c0c0c0"/>
<rect x="1405" y="630" width="1" height="13" fill="#c0c0c0"/>
<rect x="1413" y="630" width="1" height="16" fill="#c0c0c0"/>
<rect x="1421" y="630" width="1" height="17" fill="#c0c0c0"/>
<rect x="1429" y="630" width="1" height="19" fill="#c0c0c0"/>
</g>
<g shape-rendering="crispEdges"><polyline points="-3.0,674.5 5.5,674.9 13.5,674.9 21.5,674.9 29.5,673.0 37.5,671.9 45.5,670.2 53.5,667.4 61.5,665.0 69.5,661.0 77.5,657.8 85.5,654.1 93.5,650.5 101.5,647.9 109.5,646.0 117.5,644.7 125.5,644.4 133.5,644.8 141.5,645.7 149.5,647.0 157.5,649.0 165.5,651.5 173.5,654.1 181.5,656.5 189.5,658.9 197.5,660.9 205.5,662.1 213.5,663.1 221.5,663.5 229.5,663.3 237.5,662.4 245.5,660.8 253.5,659.0 261.5,657.2 269.5,655.3 277.5,653.5 285.5,651.6 293.5,649.9 301.5,648.3 309.5,646.8 317.5,645.6 325.5,644.4 333.5,643.5 341.5,643.0 349.5,642.6 357.5,642.2 365.5,641.6 373.5,640.5 381.5,639.1 389.5,637.4 397.5,635.4 405.5,632.4 413.5,628.6 421.5,624.2 429.5,619.7 437.5,615.6 445.5,611.8 453.5,608.5 461.5,605.9 469.5,603.6 477.5,602.3 485.5,601.8 493.5,602.2 501.5,602.5 509.5,602.3 517.5,602.1 525.5,601.7 533.5,601.1 541.5,600.5 549.5,600.2 557.5,600.1 565.5,600.3 573.5,601.2 581.5,603.6 589.5,606.7 597.5,610.8 605.5,615.5 613.5,620.2 621.5,623.9 629.5,626.5 637.5,628.4 645.5,629.7 653.5,630.2 661.5,630.1 669.5,628.8 677.5,626.3 685.5,623.6 693.5,621.0 701.5,618.7 709.5,616.6 717.5,615.0 725.5,613.7 733.5,612.9 741.5,612.7 749.5,612.9 757.5,613.3 765.5,614.2 773.5,615.4 781.5,616.6 789.5,618.0 797.5,619.5 805.5,621.0 813.5,623.4 821.5,626.4 829.5,629.9 837.5,633.5 845.5,638.1 853.5,643.6 861.5,649.3 869.5,655.1 877.5,661.2 885.5,666.3 893.5,671.0 901.5,675.3 909.5,679.4 917.5,682.5 925.5,684.9 933.5,686.5 941.5,688.0 949.5,689.1 957.5,690.8 965.5,693.2 973.5,696.0 981.5,699.1 989.5,702.8 997.5,706.6 1005.5,710.3 1013.5,713.3 1021.5,716.4 1029.5,718.4 1037.5,720.1 1045.5,721.8 1053.5,723.9 1061.5,726.5 1069.5,729.1 1077.5,730.8 1085.5,730.5 1093.5,727.9 1101.5,724.3 1109.5,718.8 1117.5,711.6 1125.5,702.8 1133.5,692.0 1141.5,679.7 1149.5,667.5 1157.5,656.5 1165.5,646.9 1173.5,638.3 1181.5,631.3 1189.5,625.8 1197.5,621.1 1205.5,617.2 1213.5,614.5 1221.5,612.8 1229.5,611.7 1237.5,611.1 1245.5,610.7 1253.5,610.3 1261.5,609.7 1269.5,609.1 1277.5,608.4 1285.5,607.3 1293.5,606.5 1301.5,606.2 1309.5,606.7 1317.5,607.5 1325.5,608.7 1333.5,609.9 1341.5,611.7 1349.5,614.5 1357.5,618.4 1365.5,622.4 1373.5,626.4 1381.5,630.1 1389.5,633.3 1397.5,635.9 1405.5,638.7 1413.5,641.2 1421.5,642.9 1429.5,644.3" fill="none" stroke="#ff0000" stroke-width="1" stroke-dasharray="3 3"/></g>
<g shape-rendering="crispEdges"><polyline points="-3.0,866.0 5.5,875.1 13.5,877.0 21.5,862.5 29.5,848.3 37.5,850.5 45.5,847.9 53.5,840.6 61.5,843.2 69.5,843.2 77.5,850.2 85.5,839.5 93.5,848.4 101.5,860.1 109.5,862.1 117.5,858.0 125.5,866.7 133.5,870.5 141.5,859.8 149.5,868.5 157.5,869.1 165.5,875.6 173.5,877.7 181.5,871.8 189.5,871.1 197.5,864.4 205.5,861.1 213.5,859.1 221.5,855.7 229.5,854.3 237.5,854.9 245.5,847.5 253.5,860.4 261.5,861.4 269.5,855.3 277.5,855.3 285.5,840.9 293.5,850.0 301.5,847.9 309.5,851.2 317.5,845.3 325.5,855.6 333.5,863.8 341.5,866.8 349.5,855.9 357.5,840.2 365.5,834.9 373.5,826.8 381.5,828.2 389.5,822.7 397.5,829.9 405.5,814.0 413.5,811.5 421.5,809.3 429.5,808.4 437.5,823.6 445.5,817.6 453.5,826.1 461.5,827.4 469.5,828.7 477.5,836.0 485.5,832.9 493.5,835.0 501.5,814.6 509.5,808.1 517.5,820.1 525.5,816.3 533.5,825.2 541.5,828.1 549.5,841.2 557.5,845.0 565.5,843.5 573.5,841.5 581.5,863.0 589.5,856.5 597.5,862.9 605.5,866.5 613.5,851.9 621.5,834.6 629.5,832.1 637.5,834.6 645.5,834.6 653.5,844.2 661.5,839.5 669.5,827.3 677.5,827.0 685.5,831.4 693.5,824.2 701.5,826.7 709.5,829.8 717.5,839.6 725.5,844.9 733.5,846.3 741.5,842.1 749.5,836.3 757.5,835.0 765.5,842.1 773.5,836.0 781.5,836.5 789.5,851.5 797.5,856.3 805.5,856.8 813.5,875.8 821.5,869.6 829.5,865.2 837.5,865.9 845.5,883.2 853.5,883.8 861.5,883.2 869.5,886.2 877.5,890.5 885.5,876.7 893.5,877.8 901.5,879.1 909.5,881.0 917.5,883.9 925.5,881.8 933.5,881.1 941.5,892.0 949.5,889.2 957.5,899.5 965.5,901.5 973.5,900.8 981.5,901.6 989.5,907.2 997.5,894.6 1005.5,880.7 1013.5,882.0 1021.5,890.1 1029.5,879.1 1037.5,888.9 1045.5,890.9 1053.5,896.7 1061.5,901.6 1069.5,885.0 1077.5,857.4 1085.5,840.6 1093.5,837.2 1101.5,844.4 1109.5,838.2 1117.5,839.5 1125.5,841.2 1133.5,838.2 1141.5,831.2 1149.5,826.7 1157.5,830.0 1165.5,828.6 1173.5,834.3 1181.5,841.0 1189.5,845.6 1197.5,839.2 1205.5,838.0 1213.5,837.7 1221.5,834.6 1229.5,830.2 1237.5,830.6 1245.5,834.4 1253.5,835.5 1261.5,839.5 1269.5,834.8 1277.5,827.6 1285.5,824.4 1293.5,833.3 1301.5,837.9 1309.5,846.4 1317.5,845.6 1325.5,849.2 1333.5,841.8 1341.5,857.6 1349.5,862.4 1357.5,863.3 1365.5,855.6 1373.5,854.7 1381.5,855.5 1389.5,849.7 1397.5,847.8 1405.5,860.2 1413.5,863.0 1421.5,855.8 1429.5,863.1" fill="none" stroke="#1e90ff" stroke-width="1" /></g>
<g shape-rendering="crispEdges">
<rect x="0" y="30" width="1657" height="1" fill="#000"/>
<rect x="0" y="583" width="1657" height="1" fill="#000"/>
<rect x="1656" y="30" width="1" height="554" fill="#000"/>
<rect x="0" y="585" width="1657" height="1" fill="#000"/>
<rect x="0" y="755" width="1657" height="1" fill="#000"/>
<rect x="1656" y="585" width="1" height="171" fill="#000"/>
<rect x="0" y="757" width="1657" height="1" fill="#000"/>
<rect x="0" y="931" width="1657" height="1" fill="#000"/>
<rect x="1656" y="757" width="1" height="175" fill="#000"/>
</g>
<g shape-rendering="crispEdges">
<rect x="1657" y="52" width="2" height="1" fill="#000"/>
<rect x="1657" y="85" width="2" height="1" fill="#000"/>
<rect x="1657" y="118" width="2" height="1" fill="#000"/>
<rect x="1657" y="151" width="2" height="1" fill="#000"/>
<rect x="1657" y="184" width="2" height="1" fill="#000"/>
<rect x="1657" y="217" width="2" height="1" fill="#000"/>
<rect x="1657" y="250" width="2" height="1" fill="#000"/>
<rect x="1657" y="283" width="2" height="1" fill="#000"/>
<rect x="1657" y="316" width="2" height="1" fill="#000"/>
<rect x="1657" y="382" width="2" height="1" fill="#000"/>
<rect x="1657" y="448" width="2" height="1" fill="#000"/>
<rect x="1657" y="481" width="2" height="1" fill="#000"/>
<rect x="1657" y="514" width="2" height="1" fill="#000"/>
<rect x="1657" y="547" width="2" height="1" fill="#000"/>
<rect x="1657" y="580" width="2" height="1" fill="#000"/>
<rect x="1657" y="587" width="1" height="1" fill="#000"/>
<rect x="1657" y="630" width="2" height="1" fill="#000"/>
<rect x="1657" y="754" width="1" height="1" fill="#000"/>
<rect x="1657" y="759" width="1" height="1" fill="#000"/>
<rect x="1657" y="793" width="2" height="1" fill="#000"/>
<rect x="1657" y="844" width="2" height="1" fill="#000"/>
<rect x="1657" y="905" width="2" height="1" fill="#000"/>
<rect x="1657" y="930" width="1" height="1" fill="#000"/>
<rect x="61" y="932" width="1" height="3" fill="#000"/>
<rect x="125" y="932" width="1" height="3" fill="#000"/>
<rect x="189" y="932" width="1" height="3" fill="#000"/>
<rect x="253" y="932" width="1" height="3" fill="#000"/>
<rect x="317" y="932" width="1" height="3" fill="#000"/>
<rect x="381" y="932" width="1" height="3" fill="#000"/>
<rect x="445" y="932" width="1" height="3" fill="#000"/>
<rect x="509" y="932" width="1" height="3" fill="#000"/>
<rect x="573" y="932" width="1" height="3" fill="#000"/>
<rect x="637" y="932" width="1" height="3" fill="#000"/>
<rect x="701" y="932" width="1" height="3" fill="#000"/>
<rect x="765" y="932" width="1" height="3" fill="#000"/>
<rect x="829" y="932" width="1" height="3" fill="#000"/>
<rect x="893" y="932" width="1" height="3" fill="#000"/>
<rect x="957" y="932" width="1" height="3" fill="#000"/>
<rect x="1021" y="932" width="1" height="3" fill="#000"/>
<rect x="1085" y="932" width="1" height="3" fill="#000"/>
<rect x="1149" y="932" width="1" height="3" fill="#000"/>
<rect x="1213" y="932" width="1" height="3" fill="#000"/>
<rect x="1277" y="932" width="1" height="3" fill="#000"/>
<rect x="1341" y="932" width="1" height="3" fill="#000"/>
<rect x="1405" y="932" width="1" height="3" fill="#000"/>
</g>
<g font-family="Liberation Sans, sans-serif">
<text x="1662" y="56" font-size="9.5" fill="#000" textLength="33.5" lengthAdjust="spacingAndGlyphs" >25122.0</text>
<text x="1662" y="89" font-size="9.5" fill="#000" textLength="33.5" lengthAdjust="spacingAndGlyphs" >24680.0</text>
<text x="1662" y="122" font-size="9.5" fill="#000" textLength="33.5" lengthAdjust="spacingAndGlyphs" >24238.0</text>
<text x="1662" y="155" font-size="9.5" fill="#000" textLength="33.5" lengthAdjust="spacingAndGlyphs" >23796.0</text>
<text x="1662" y="188" font-size="9.5" fill="#000" textLength="33.5" lengthAdjust="spacingAndGlyphs" >23367.0</text>
<text x="1662" y="221" font-size="9.5" fill="#000" textLength="33.5" lengthAdjust="spacingAndGlyphs" >22925.0</text>
<text x="1662" y="254" font-size="9.5" fill="#000" textLength="33.5" lengthAdjust="spacingAndGlyphs" >22483.0</text>
<text x="1662" y="287" font-size="9.5" fill="#000" textLength="33.5" lengthAdjust="spacingAndGlyphs" >22041.0</text>
<text x="1662" y="320" font-size="9.5" fill="#000" textLength="33.5" lengthAdjust="spacingAndGlyphs" >21612.0</text>
<text x="1662" y="386" font-size="9.5" fill="#000" textLength="33.5" lengthAdjust="spacingAndGlyphs" >20728.0</text>
<text x="1662" y="452" font-size="9.5" fill="#000" textLength="33.5" lengthAdjust="spacingAndGlyphs" >19857.0</text>
<text x="1662" y="485" font-size="9.5" fill="#000" textLength="33.5" lengthAdjust="spacingAndGlyphs" >19415.0</text>
<text x="1662" y="518" font-size="9.5" fill="#000" textLength="33.5" lengthAdjust="spacingAndGlyphs" >18973.0</text>
<text x="1662" y="551" font-size="9.5" fill="#000" textLength="33.5" lengthAdjust="spacingAndGlyphs" >18531.0</text>
<text x="1662" y="584" font-size="9.5" fill="#000" textLength="33.5" lengthAdjust="spacingAndGlyphs" >18102.0</text>
<text x="1660" y="596" font-size="9.5" fill="#000" textLength="28.4" lengthAdjust="spacingAndGlyphs" >389.44</text>
<text x="1660" y="634" font-size="9.5" fill="#000" textLength="18.0" lengthAdjust="spacingAndGlyphs" >0.00</text>
<text x="1660" y="752" font-size="9.5" fill="#000" textLength="36.6" lengthAdjust="spacingAndGlyphs" >-1099.78</text>
<text x="1660" y="768" font-size="9.5" fill="#000" textLength="15.5" lengthAdjust="spacingAndGlyphs" >100</text>
<text x="1660" y="797" font-size="9.5" fill="#000" textLength="10.3" lengthAdjust="spacingAndGlyphs" >80</text>
<text x="1660" y="848" font-size="9.5" fill="#000" textLength="10.3" lengthAdjust="spacingAndGlyphs" >50</text>
<text x="1660" y="909" font-size="9.5" fill="#000" textLength="10.3" lengthAdjust="spacingAndGlyphs" >15</text>
<text x="1660" y="928" font-size="9.5" fill="#000" textLength="5.2" lengthAdjust="spacingAndGlyphs" >0</text>
<text x="-4" y="944" font-size="9.5" fill="#000" textLength="47.4" lengthAdjust="spacingAndGlyphs" >8 Dec 2021</text>
<text x="60" y="944" font-size="9.5" fill="#000" textLength="50.0" lengthAdjust="spacingAndGlyphs" >9 Dec 05:00</text>
<text x="124" y="944" font-size="9.5" fill="#000" textLength="55.1" lengthAdjust="spacingAndGlyphs" >15 Dec 05:00</text>
<text x="188" y="944" font-size="9.5" fill="#000" textLength="55.1" lengthAdjust="spacingAndGlyphs" >21 Dec 05:00</text>
<text x="252" y="944" font-size="9.5" fill="#000" textLength="55.1" lengthAdjust="spacingAndGlyphs" >29 Dec 01:15</text>
<text x="316" y="944" font-size="9.5" fill="#000" textLength="48.4" lengthAdjust="spacingAndGlyphs" >4 Jan 05:00</text>
<text x="380" y="944" font-size="9.5" fill="#000" textLength="53.6" lengthAdjust="spacingAndGlyphs" >10 Jan 05:00</text>
<text x="444" y="944" font-size="9.5" fill="#000" textLength="53.6" lengthAdjust="spacingAndGlyphs" >14 Jan 05:00</text>
<text x="508" y="944" font-size="9.5" fill="#000" textLength="53.6" lengthAdjust="spacingAndGlyphs" >20 Jan 05:00</text>
<text x="572" y="944" font-size="9.5" fill="#000" textLength="53.6" lengthAdjust="spacingAndGlyphs" >26 Jan 05:00</text>
<text x="636" y="944" font-size="9.5" fill="#000" textLength="49.5" lengthAdjust="spacingAndGlyphs" >7 Feb 01:15</text>
<text x="700" y="944" font-size="9.5" fill="#000" textLength="53.9" lengthAdjust="spacingAndGlyphs" >11 Feb 01:15</text>
<text x="764" y="944" font-size="9.5" fill="#000" textLength="54.6" lengthAdjust="spacingAndGlyphs" >17 Feb 01:15</text>
<text x="828" y="944" font-size="9.5" fill="#000" textLength="54.6" lengthAdjust="spacingAndGlyphs" >23 Feb 01:15</text>
<text x="892" y="944" font-size="9.5" fill="#000" textLength="49.5" lengthAdjust="spacingAndGlyphs" >1 Mar 01:15</text>
<text x="956" y="944" font-size="9.5" fill="#000" textLength="49.5" lengthAdjust="spacingAndGlyphs" >7 Mar 01:15</text>
<text x="1020" y="944" font-size="9.5" fill="#000" textLength="53.9" lengthAdjust="spacingAndGlyphs" >11 Mar 01:15</text>
<text x="1084" y="944" font-size="9.5" fill="#000" textLength="54.6" lengthAdjust="spacingAndGlyphs" >17 Mar 01:15</text>
<text x="1148" y="944" font-size="9.5" fill="#000" textLength="54.6" lengthAdjust="spacingAndGlyphs" >23 Mar 01:15</text>
<text x="1212" y="944" font-size="9.5" fill="#000" textLength="54.6" lengthAdjust="spacingAndGlyphs" >29 Mar 01:15</text>
<text x="1276" y="944" font-size="9.5" fill="#000" textLength="47.4" lengthAdjust="spacingAndGlyphs" >4 Apr 01:15</text>
<text x="1340" y="944" font-size="9.5" fill="#000" textLength="51.9" lengthAdjust="spacingAndGlyphs" >11 Apr 01:15</text>
<text x="1404" y="944" font-size="9.5" fill="#000" textLength="52.6" lengthAdjust="spacingAndGlyphs" >19 Apr 01:15</text>
</g>
<g shape-rendering="crispEdges">
<rect x="1657" y="297" width="2" height="1" fill="#000"/>
<rect x="1658" y="291" width="41" height="11" fill="#ff0000"/>
<rect x="1657" y="324" width="2" height="1" fill="#000"/>
<rect x="1658" y="318" width="41" height="11" fill="#ff0000"/>
<rect x="1657" y="349" width="2" height="1" fill="#000"/>
<rect x="1658" y="343" width="41" height="11" fill="#32cd32"/>
<rect x="1657" y="367" width="2" height="1" fill="#000"/>
<rect x="1658" y="361" width="41" height="11" fill="#000000"/>
<rect x="1657" y="390" width="2" height="1" fill="#000"/>
<rect x="1658" y="384" width="41" height="11" fill="#0000ff"/>
<rect x="1657" y="416" width="2" height="1" fill="#000"/>
<rect x="1658" y="410" width="41" height="11" fill="#0000ff"/>
</g>
<g font-family="Liberation Sans, sans-serif">
<text x="1662" y="300" font-size="9.5" fill="#fff" textLength="33.5" lengthAdjust="spacingAndGlyphs" >21859.8</text>
<text x="1662" y="327" font-size="9.5" fill="#fff" textLength="33.5" lengthAdjust="spacingAndGlyphs" >21501.3</text>
<text x="1662" y="352" font-size="9.5" fill="#fff" textLength="32.8" lengthAdjust="spacingAndGlyphs" >21169.4</text>
<text x="1662" y="370" font-size="9.5" fill="#fff" textLength="33.5" lengthAdjust="spacingAndGlyphs" >20932.5</text>
<text x="1662" y="393" font-size="9.5" fill="#fff" textLength="33.5" lengthAdjust="spacingAndGlyphs" >20625.1</text>
<text x="1662" y="419" font-size="9.5" fill="#fff" textLength="33.5" lengthAdjust="spacingAndGlyphs" >20280.0</text>
</g>
<g shape-rendering="crispEdges">
<rect x="614.5" y="47.5" width="61" height="18" fill="#fff" stroke="#ff0000" stroke-width="1"/>
<rect x="676" y="56" width="10" height="1" fill="#ff0000"/>
<rect x="990.5" y="560.5" width="61" height="18" fill="#fff" stroke="#ff0000" stroke-width="1"/>
<rect x="1052" y="569" width="10" height="1" fill="#ff0000"/>
<rect x="1214.5" y="237.5" width="61" height="18" fill="#fff" stroke="#ff0000" stroke-width="1"/>
<rect x="1276" y="246" width="10" height="1" fill="#ff0000"/>
<rect x="1096.5" y="371.5" width="60" height="18" fill="#fff" stroke="#ff0000" stroke-width="1"/>
<rect x="1085" y="380" width="12" height="1" fill="#ff0000"/>
<rect x="1334.5" y="365.5" width="61" height="18" fill="#fff" stroke="#ff0000" stroke-width="1"/>
<rect x="1396" y="374" width="10" height="1" fill="#ff0000"/>
<rect x="1208.5" y="337.5" width="73" height="24" fill="#fff" stroke="#ff0000" stroke-width="1"/>
<rect x="1197" y="349" width="12" height="1" fill="#ff0000"/>
</g>
<g font-family="Liberation Sans, sans-serif">
<text x="616" y="63" font-size="16.8" fill="#ff0000" textLength="59.6" lengthAdjust="spacingAndGlyphs" >25058.8</text>
<text x="992" y="576" font-size="16.8" fill="#ff0000" textLength="59.6" lengthAdjust="spacingAndGlyphs" >18236.0</text>
<text x="1216" y="253" font-size="16.8" fill="#ff0000" textLength="59.6" lengthAdjust="spacingAndGlyphs" >22536.8</text>
<text x="1098" y="387" font-size="16.8" fill="#ff0000" textLength="59.6" lengthAdjust="spacingAndGlyphs" >20757.9</text>
<text x="1336" y="381" font-size="16.8" fill="#ff0000" textLength="59.6" lengthAdjust="spacingAndGlyphs" >20837.6</text>
<text x="1209.5" y="357.6" font-size="22.8" fill="#ff0000" textLength="71.9" lengthAdjust="spacingAndGlyphs" >21169.4</text>
</g>
<line x1="1288.2" y1="270.7" x2="1449" y2="371.5" stroke="#e8141c" stroke-width="3.8" stroke-linecap="butt"/><polygon points="1462.2,380.5 1452,363.8 1443,377.8" fill="#e8141c"/><line x1="1323.8" y1="629.6" x2="1448" y2="652.6" stroke="#e8141c" stroke-width="3.2" stroke-linecap="butt"/><polygon points="1464.4,655.5 1449,643.9 1445.3,660.8" fill="#e8141c"/><line x1="1284.8" y1="843.5" x2="1424" y2="857" stroke="#e8141c" stroke-width="3.2" stroke-linecap="butt"/><polygon points="1440.2,858.3 1423.3,848.3 1422.2,865.7" fill="#e8141c"/>
<g>
<rect x="0" y="0" width="1703" height="26" fill="#f0f0f0"/>
<rect x="0" y="0" width="1703" height="1" fill="#fafafa"/>
<rect x="0" y="25" width="1703" height="1" fill="#f6f6f6"/>
<rect x="0" y="26" width="1703" height="1" fill="#a3a3a3"/>
<rect x="0" y="27" width="1703" height="1" fill="#6a6a6a"/>
<rect x="0" y="28" width="1703" height="2" fill="#ffffff"/>
<g shape-rendering="crispEdges">
<rect x="17" y="3" width="1" height="21" fill="#a0a0a0"/>
<rect x="348" y="3" width="1" height="21" fill="#a0a0a0"/>
<rect x="438" y="3" width="1" height="21" fill="#a0a0a0"/>
<rect x="500" y="3" width="1" height="21" fill="#a0a0a0"/>
<rect x="688" y="3" width="1" height="21" fill="#a0a0a0"/>
<rect x="253" y="1" width="1" height="24" fill="#8a8a8a"/>
<rect x="254" y="1" width="1" height="24" fill="#ffffff"/>
<rect x="621" y="1" width="1" height="24" fill="#8a8a8a"/>
<rect x="622" y="1" width="1" height="24" fill="#ffffff"/>
<rect x="927" y="1" width="1" height="24" fill="#8a8a8a"/>
<rect x="928" y="1" width="1" height="24" fill="#ffffff"/>
<rect x="1188" y="1" width="1" height="24" fill="#8a8a8a"/>
<rect x="1189" y="1" width="1" height="24" fill="#ffffff"/>
<rect x="257" y="4" width="3" height="1" fill="#a8a8a8"/>
<rect x="257" y="6" width="3" height="1" fill="#a8a8a8"/>
<rect x="257" y="8" width="3" height="1" fill="#a8a8a8"/>
<rect x="257" y="10" width="3" height="1" fill="#a8a8a8"/>
<rect x="257" y="12" width="3" height="1" fill="#a8a8a8"/>
<rect x="257" y="14" width="3" height="1" fill="#a8a8a8"/>
<rect x="257" y="16" width="3" height="1" fill="#a8a8a8"/>
<rect x="257" y="18" width="3" height="1" fill="#a8a8a8"/>
<rect x="257" y="20" width="3" height="1" fill="#a8a8a8"/>
<rect x="257" y="22" width="3" height="1" fill="#a8a8a8"/>
<rect x="625" y="4" width="3" height="1" fill="#a8a8a8"/>
<rect x="625" y="6" width="3" height="1" fill="#a8a8a8"/>
<rect x="625" y="8" width="3" height="1" fill="#a8a8a8"/>
<rect x="625" y="10" width="3" height="1" fill="#a8a8a8"/>
<rect x="625" y="12" width="3" height="1" fill="#a8a8a8"/>
<rect x="625" y="14" width="3" height="1" fill="#a8a8a8"/>
<rect x="625" y="16" width="3" height="1" fill="#a8a8a8"/>
<rect x="625" y="18" width="3" height="1" fill="#a8a8a8"/>
<rect x="625" y="20" width="3" height="1" fill="#a8a8a8"/>
<rect x="625" y="22" width="3" height="1" fill="#a8a8a8"/>
<rect x="931" y="4" width="3" height="1" fill="#a8a8a8"/>
<rect x="931" y="6" width="3" height="1" fill="#a8a8a8"/>
<rect x="931" y="8" width="3" height="1" fill="#a8a8a8"/>
<rect x="931" y="10" width="3" height="1" fill="#a8a8a8"/>
<rect x="931" y="12" width="3" height="1" fill="#a8a8a8"/>
<rect x="931" y="14" width="3" height="1" fill="#a8a8a8"/>
<rect x="931" y="16" width="3" height="1" fill="#a8a8a8"/>
<rect x="931" y="18" width="3" height="1" fill="#a8a8a8"/>
<rect x="931" y="20" width="3" height="1" fill="#a8a8a8"/>
<rect x="931" y="22" width="3" height="1" fill="#a8a8a8"/>
<rect x="291" y="2" width="25" height="22" fill="#f8f8f8"/>
<rect x="291" y="2" width="25" height="1" fill="#a0a0a0"/>
<rect x="291" y="2" width="1" height="22" fill="#a0a0a0"/>
<rect x="443" y="2" width="25" height="22" fill="#f8f8f8"/>
<rect x="443" y="2" width="25" height="1" fill="#a0a0a0"/>
<rect x="443" y="2" width="1" height="22" fill="#a0a0a0"/>
<rect x="471" y="2" width="25" height="22" fill="#f8f8f8"/>
<rect x="471" y="2" width="25" height="1" fill="#a0a0a0"/>
<rect x="471" y="2" width="1" height="22" fill="#a0a0a0"/>
<rect x="631" y="2" width="25" height="22" fill="#f8f8f8"/>
<rect x="631" y="2" width="25" height="1" fill="#a0a0a0"/>
<rect x="631" y="2" width="1" height="22" fill="#a0a0a0"/>
<rect x="1077" y="2" width="25" height="22" fill="#f8f8f8"/>
<rect x="1077" y="2" width="25" height="1" fill="#a0a0a0"/>
<rect x="1077" y="2" width="1" height="22" fill="#a0a0a0"/>
</g>
<rect x="-2" y="5" width="6" height="7" fill="#fff" stroke="#9a9a90" stroke-width="1"/>
<circle cx="2" cy="14.5" r="4.5" fill="#dceefa" stroke="#5a9ad8" stroke-width="1.2"/>
<line x1="5.5" y1="18.5" x2="9" y2="22.5" stroke="#c8a020" stroke-width="2.5"/>
<path d="M27.5,6.5 h7 l3.5,3.5 v10 h-10.5 z" fill="#fff" stroke="#6a6a6a" stroke-width="1.2"/><rect x="29" y="9" width="3" height="1.5" fill="#888"/><rect x="29" y="12" width="6" height="1.2" fill="#888"/><rect x="29" y="14.5" width="5" height="1.2" fill="#888"/>
<path d="M35.0,12 h4 v4.0 h4.0 v4 h-4.0 v4.0 h-4 v-4.0 h-4.0 v-4 h4.0 z" fill="#22dd22" stroke="#0a8a0a" stroke-width="1"/>
<text x="46" y="18" font-size="12.5" fill="#000" font-family="Liberation Sans, sans-serif" textLength="36" lengthAdjust="spacingAndGlyphs">新订单</text>
<defs><linearGradient id="gold" x1="0" y1="0" x2="1" y2="1"><stop offset="0" stop-color="#f8e070"/><stop offset="1" stop-color="#c89418"/></linearGradient></defs>
<path d="M94.5,16 L100,7.5 L109.5,14 L104,20.5 Z" fill="url(#gold)" stroke="#a86c10" stroke-width="1"/>
<path d="M95,17.5 L102.5,22 L110,15.5 L110,14" fill="none" stroke="#b07818" stroke-width="1.3"/>
<rect x="124" y="6" width="11" height="10" fill="#2a8de8" stroke="#1a5ab0" stroke-width="1"/>
<rect x="128" y="9" width="6" height="2" fill="#cfe6ff"/>
<path d="M123,21 Q121,17 125,16.5 Q127,13 131,15 Q135,13.5 136,17 Q139,18 137.5,21.5 Z" fill="#f2f4f8" stroke="#6080b0" stroke-width="1"/>
<circle cx="158" cy="14" r="7.5" fill="none" stroke="#7aa0d8" stroke-width="1"/>
<circle cx="158" cy="14" r="5" fill="none" stroke="#5a8ad0" stroke-width="1"/>
<path d="M158,21.5 A7.5,7.5 0 0 0 165.5,14" fill="none" stroke="#5aaa5a" stroke-width="2"/>
<circle cx="158" cy="13.5" r="2" fill="#2050c0"/>
<rect x="158" y="14" width="1.5" height="8" fill="#22aa22"/>
<path d="M178,14 L186,21.5 L193,14 Z" fill="#f0d850" stroke="#c0a030" stroke-width="1"/>
<ellipse cx="185.5" cy="11" rx="8" ry="3" fill="#4aa8e0" stroke="#2a78b0" stroke-width="1"/>
<ellipse cx="185.5" cy="8.5" rx="4" ry="3" fill="#5ab8f0"/>
<circle cx="189.6" cy="17.8" r="4.5" fill="#dd2020"/>
<rect x="187.8" y="16" width="3.6" height="3.6" fill="#fff"/>
<text x="199" y="18" font-size="12.5" fill="#000" font-family="Liberation Sans, sans-serif" textLength="46" lengthAdjust="spacingAndGlyphs">自动交易</text>
<rect x="271" y="8" width="1.3" height="14" fill="#555"/><rect x="269" y="19" width="14" height="1.3" fill="#555"/><path d="M269.5,10.5 L271.65,7.5 L273.8,10.5 Z" fill="#555"/><path d="M280.5,17.4 L283.5,19.65 L280.5,21.9 Z" fill="#555"/>
<path d="M277.5,9 V18 M277.5,10.5 H280 M277.5,16.5 H275" stroke="#118811" stroke-width="1.3" fill="none"/>
<rect x="299" y="8" width="1.3" height="14" fill="#555"/><rect x="297" y="19" width="14" height="1.3" fill="#555"/><path d="M297.5,10.5 L299.65,7.5 L301.8,10.5 Z" fill="#555"/><path d="M308.5,17.4 L311.5,19.65 L308.5,21.9 Z" fill="#555"/>
<rect x="305" y="6" width="1.2" height="12" fill="#118811"/>
<rect x="303.2" y="8.3" width="4.6" height="7.7" fill="#55ee66" stroke="#118811" stroke-width="1"/>
<rect x="327" y="8" width="1.3" height="14" fill="#555"/><rect x="325" y="19" width="14" height="1.3" fill="#555"/><path d="M325.5,10.5 L327.65,7.5 L329.8,10.5 Z" fill="#555"/><path d="M336.5,17.4 L339.5,19.65 L336.5,21.9 Z" fill="#555"/>
<path d="M326,16.5 Q331,10 333,11.5 T338,15" stroke="#33a033" stroke-width="1.3" fill="none"/>
<line x1="366.5" y1="15.5" x2="372" y2="21" stroke="#b88a10" stroke-width="3.2"/><line x1="366.5" y1="15.5" x2="372" y2="21" stroke="#f0d040" stroke-width="1.6"/><circle cx="363" cy="12" r="5.6" fill="#dcf2fc" stroke="#3a80d0" stroke-width="1.2"/><rect x="359.5" y="11" width="7" height="2" fill="#3a80a8"/><rect x="362" y="8.5" width="2" height="7" fill="#3a80a8"/>
<line x1="394.5" y1="15.5" x2="400" y2="21" stroke="#b88a10" stroke-width="3.2"/><line x1="394.5" y1="15.5" x2="400" y2="21" stroke="#f0d040" stroke-width="1.6"/><circle cx="391" cy="12" r="5.6" fill="#dcf2fc" stroke="#3a80d0" stroke-width="1.2"/><rect x="387.5" y="11" width="7" height="2" fill="#3a80a8"/>
<rect x="413" y="6" width="8" height="8" fill="#2a9a1a"/>
<rect x="414.5" y="9" width="5" height="3.5" fill="#fff"/>
<rect x="421" y="6" width="8" height="8" fill="#1a50d0"/>
<rect x="422.5" y="9" width="5" height="3.5" fill="#fff"/>
<rect x="413" y="14" width="8" height="8" fill="#1a50d0"/>
<rect x="414.5" y="17" width="5" height="3.5" fill="#fff"/>
<rect x="421" y="14" width="8" height="8" fill="#2a9a1a"/>
<rect x="422.5" y="17" width="5" height="3.5" fill="#fff"/>
<rect x="451" y="8" width="1.3" height="14" fill="#555"/><rect x="449" y="19" width="14" height="1.3" fill="#555"/><path d="M449.5,10.5 L451.65,7.5 L453.8,10.5 Z" fill="#555"/><path d="M460.5,17.4 L463.5,19.65 L460.5,21.9 Z" fill="#555"/>
<path d="M456.5,10 L460.5,13.8 L456.5,17.5 Z" fill="#55dd55" stroke="#119911" stroke-width="1"/>
<rect x="479" y="8" width="1.3" height="14" fill="#555"/><rect x="477" y="19" width="14" height="1.3" fill="#555"/><path d="M477.5,10.5 L479.65,7.5 L481.8,10.5 Z" fill="#555"/><path d="M488.5,17.4 L491.5,19.65 L488.5,21.9 Z" fill="#555"/>
<rect x="485" y="8" width="1.3" height="10" fill="#1a70b0"/>
<path d="M486.5,13.5 L490,10.5 L489,13 L491.5,13 L491.5,14 L489,14 L490,16.5 Z" fill="#e05010"/>
<path d="M510.5,6.5 h7 l3.5,3.5 v10 h-10.5 z" fill="#fff" stroke="#6a6a6a" stroke-width="1.2"/>
<path d="M516,9 Q514,9 514,11 V18 M512.5,13 H515.5" stroke="#444" stroke-width="1" fill="none"/>
<path d="M518.7,13.0 h3.6 v3.7 h3.7 v3.6 h-3.7 v3.7 h-3.6 v-3.7 h-3.7 v-3.6 h3.7 z" fill="#22dd22" stroke="#0a8a0a" stroke-width="1"/>
<path d="M531.5,13 L537.0,13 L534.25,16 Z" fill="#000"/>
<defs><radialGradient id="clk" cx="0.45" cy="0.35" r="0.7"><stop offset="0.6" stop-color="#3a9af0"/><stop offset="1" stop-color="#0848b0"/></radialGradient></defs>
<circle cx="556" cy="14" r="8" fill="url(#clk)"/>
<circle cx="556" cy="14" r="5.6" fill="#f6f8fa"/>
<path d="M555.5,9.5 V14 H558.5" stroke="#222" stroke-width="1.2" fill="none"/>
<rect x="560.2" y="13.6" width="0.8" height="0.8" fill="#888"/>
<rect x="559.6" y="15.9" width="0.8" height="0.8" fill="#888"/>
<rect x="557.9" y="17.6" width="0.8" height="0.8" fill="#888"/>
<rect x="555.6" y="18.2" width="0.8" height="0.8" fill="#888"/>
<rect x="553.3" y="17.6" width="0.8" height="0.8" fill="#888"/>
<rect x="551.6" y="15.9" width="0.8" height="0.8" fill="#888"/>
<rect x="551.0" y="13.6" width="0.8" height="0.8" fill="#888"/>
<rect x="551.6" y="11.3" width="0.8" height="0.8" fill="#888"/>
<rect x="553.3" y="9.6" width="0.8" height="0.8" fill="#888"/>
<rect x="555.6" y="9.0" width="0.8" height="0.8" fill="#888"/>
<rect x="557.9" y="9.6" width="0.8" height="0.8" fill="#888"/>
<rect x="559.6" y="11.3" width="0.8" height="0.8" fill="#888"/>
<path d="M571,13 L576.5,13 L573.75,16 Z" fill="#000"/>
<rect x="587.5" y="7.5" width="15" height="13.5" fill="#fff" stroke="#3a70c0" stroke-width="1"/>
<rect x="588" y="8" width="14" height="2" fill="#5a90d8"/>
<rect x="588" y="14" width="14" height="1" fill="#3a70c0"/><rect x="588" y="15" width="14" height="1" fill="#ffffff"/>
<path d="M589,13 L591,13 L593,12 L595,11.5 L597,12.5 L599,11.5 L601,11.5" stroke="#a02010" stroke-width="1" fill="none"/>
<path d="M590,18.5 L592,18 L594,18.5 L596,17 L598,16 L600,18.5" stroke="#20a020" stroke-width="1" fill="none"/>
<path d="M610,13 L615.5,13 L612.75,16 Z" fill="#000"/>
<path d="M639,7 L639,19.5 L641.8,16.8 L644,21 L646,20 L643.8,15.8 L647.5,15.5 Z" fill="#333"/>
<rect x="671" y="7" width="1.3" height="15" fill="#444"/>
<rect x="664" y="14" width="15" height="1.3" fill="#444"/>
<rect x="705" y="8" width="1.3" height="13" fill="#444"/>
<rect x="728" y="14" width="12" height="1.3" fill="#444"/>
<line x1="755.5" y1="21" x2="768" y2="8.5" stroke="#444" stroke-width="1.2"/>
<path d="M782,19 L795,7 M784.5,21 L797,9.5 M784,14 L788,18 M787,11 L791,15 M790,8.5 L794,12.5" stroke="#444" stroke-width="1.2" fill="none"/>
<text x="794" y="24" font-size="8" font-weight="bold" fill="#333" font-family="Liberation Sans, sans-serif">E</text>
<line x1="811" y1="7.5" x2="825" y2="7.5" stroke="#555" stroke-width="1" stroke-dasharray="1 1"/>
<line x1="811" y1="11.5" x2="825" y2="11.5" stroke="#555" stroke-width="1" stroke-dasharray="1 1"/>
<line x1="811" y1="15.5" x2="825" y2="15.5" stroke="#555" stroke-width="1" stroke-dasharray="1 1"/>
<line x1="811" y1="18.5" x2="825" y2="18.5" stroke="#555" stroke-width="1" stroke-dasharray="1 1"/>
<text x="819.5" y="24" font-size="8" font-weight="bold" fill="#333" font-family="Liberation Sans, sans-serif">F</text>
<text x="841.5" y="19" font-size="12" fill="#555" font-family="Liberation Sans, sans-serif" font-weight="bold">A</text>
<rect x="867.5" y="8.5" width="12.5" height="12" fill="none" stroke="#555" stroke-width="1" stroke-dasharray="1 1"/>
<text x="869" y="19" font-size="12" fill="#555" font-family="Liberation Sans, sans-serif" font-weight="bold">T</text>
<path d="M895,11 L898,8 L901,11 L898,13 Z M903,18 L906,15 L909,18 L906,21 Z" fill="#333"/>
<path d="M897,14 L900,17 L905,12" stroke="#333" stroke-width="1.3" fill="none"/>
<path d="M915.5,13 L921.0,13 L918.25,16 Z" fill="#000"/>
<g font-family="Liberation Sans, sans-serif">
<text x="943" y="18" font-size="9.5" fill="#333" textLength="13.2" lengthAdjust="spacingAndGlyphs" >M1</text>
<text x="971" y="18" font-size="9.5" fill="#333" textLength="13.2" lengthAdjust="spacingAndGlyphs" >M5</text>
<text x="997" y="18" font-size="9.5" fill="#333" textLength="18.5" lengthAdjust="spacingAndGlyphs" >M15</text>
<text x="1025" y="18" font-size="9.5" fill="#333" textLength="18.5" lengthAdjust="spacingAndGlyphs" >M30</text>
<text x="1056" y="18" font-size="9.5" fill="#333" textLength="12.1" lengthAdjust="spacingAndGlyphs" >H1</text>
<text x="1083" y="18" font-size="9.5" fill="#333" textLength="12.1" lengthAdjust="spacingAndGlyphs" >H4</text>
<text x="1112" y="18" font-size="9.5" fill="#333" textLength="12.1" lengthAdjust="spacingAndGlyphs" >D1</text>
<text x="1139" y="18" font-size="9.5" fill="#333" textLength="14.2" lengthAdjust="spacingAndGlyphs" >W1</text>
<text x="1165" y="18" font-size="9.5" fill="#333" textLength="14.8" lengthAdjust="spacingAndGlyphs" >MN</text>
</g>
<line x1="1652" y1="19" x2="1656" y2="15" stroke="#1a5ad0" stroke-width="2.6" stroke-linecap="round"/>
<circle cx="1658.5" cy="11.3" r="3.6" fill="#fff" stroke="#2a6ae0" stroke-width="1.6"/>
<path d="M1676,17 Q1676,11.5 1682,11.5 Q1688,11.5 1688,17 Q1688,21 1682,21 L1679.5,21 L1678,23 L1678.5,20.5 Q1676,19.5 1676,17 Z" fill="#e8e8f0" stroke="#a0a0a8" stroke-width="1"/>
<circle cx="1689.4" cy="11.5" r="8.1" fill="#dd2a10"/>
<text x="1686.3" y="15.8" font-size="12" fill="#fff" font-family="Liberation Serif, serif" font-weight="bold">1</text>
</g>
<defs><linearGradient id="gh" x1="0" y1="0" x2="0" y2="1"><stop offset="0" stop-color="#f85050"/><stop offset="1" stop-color="#d42828"/></linearGradient><linearGradient id="gl" x1="0" y1="0" x2="0" y2="1"><stop offset="0" stop-color="#d62424"/><stop offset="1" stop-color="#b00000"/></linearGradient><linearGradient id="gb" x1="0" y1="0" x2="0" y2="1"><stop offset="0" stop-color="#f2f2f2"/><stop offset="1" stop-color="#d0d0d0"/></linearGradient></defs>
<g shape-rendering="crispEdges">
<rect x="0" y="50" width="52" height="24" fill="#b00000"/>
<rect x="1" y="51" width="50" height="23" fill="url(#gh)"/>
<rect x="0" y="74" width="109" height="33" fill="#b00000"/>
<rect x="1" y="74" width="107" height="32" fill="url(#gl)"/>
<rect x="4" y="73" width="44" height="1" fill="#8a0000"/>
<rect x="4" y="74" width="44" height="1" fill="#f07070"/>
<rect x="167" y="50" width="52" height="24" fill="#b00000"/>
<rect x="168" y="51" width="50" height="23" fill="url(#gh)"/>
<rect x="111" y="74" width="108" height="33" fill="#b00000"/>
<rect x="112" y="74" width="106" height="32" fill="url(#gl)"/>
<rect x="171" y="73" width="44" height="1" fill="#8a0000"/>
<rect x="171" y="74" width="44" height="1" fill="#f07070"/>
<rect x="54" y="50" width="112" height="23" fill="#a8acb4"/>
<rect x="55" y="51" width="110" height="21" fill="#fff"/>
<rect x="55" y="51" width="20" height="21" fill="url(#gb)"/>
<rect x="75" y="51" width="1" height="21" fill="#a8acb4"/>
<rect x="143" y="51" width="1" height="21" fill="#a8acb4"/>
<rect x="144" y="51" width="21" height="21" fill="url(#gb)"/>
</g>
<path d="M62.5,59.5 L67.5,59.5 L65,62.5 Z" fill="#4a5ab8"/>
<path d="M151.5,62.5 L156.5,62.5 L154,59.5 Z" fill="#4a5ab8"/>
<g font-family="Liberation Sans, sans-serif">
<text x="12" y="66" font-size="12" fill="#fff" textLength="26.4" lengthAdjust="spacingAndGlyphs" >SELL</text>
<text x="181" y="66" font-size="12" fill="#fff" textLength="22.2" lengthAdjust="spacingAndGlyphs" >BUY</text>
<text x="116.5" y="65" font-size="12" fill="#000" textLength="22.9" lengthAdjust="spacingAndGlyphs" >1.00</text>
<text x="16" y="102" font-size="12" font-weight="bold" fill="#fff" stroke="#fff" stroke-width="0.35" textLength="34" lengthAdjust="spacingAndGlyphs">20931</text>
<text x="126" y="102" font-size="12" font-weight="bold" fill="#fff" stroke="#fff" stroke-width="0.35" textLength="34.5" lengthAdjust="spacingAndGlyphs">20944</text>
<circle cx="57.5" cy="99.5" r="2.3" fill="#fff"/>
<circle cx="168" cy="99.5" r="2.3" fill="#fff"/>
<text x="62" y="102" font-size="35" fill="#fff" textLength="17.2" lengthAdjust="spacingAndGlyphs">0</text>
<text x="172.5" y="102" font-size="35" fill="#fff" textLength="17.2" lengthAdjust="spacingAndGlyphs">0</text>
<path d="M1,41 L4.5,36.5 L8,41 Z" fill="#000"/>
<text x="12" y="42" font-size="9.5" fill="#000" textLength="40.8" lengthAdjust="spacingAndGlyphs" >HK50-,H4</text>
<text x="59" y="42" font-size="9.5" fill="#000" textLength="141.5" lengthAdjust="spacingAndGlyphs" >21166.0 21207.0 20865.0 20932.5</text>
<text x="1" y="598" font-size="9.5" fill="#000" textLength="132.2" lengthAdjust="spacingAndGlyphs" >MACD(12,26,9) -171.43 -118.43</text>
<text x="1" y="770" font-size="9.5" fill="#000" textLength="68.2" lengthAdjust="spacingAndGlyphs" >RSI(14) 39.7106</text>
</g>
</svg>
</body></html>
